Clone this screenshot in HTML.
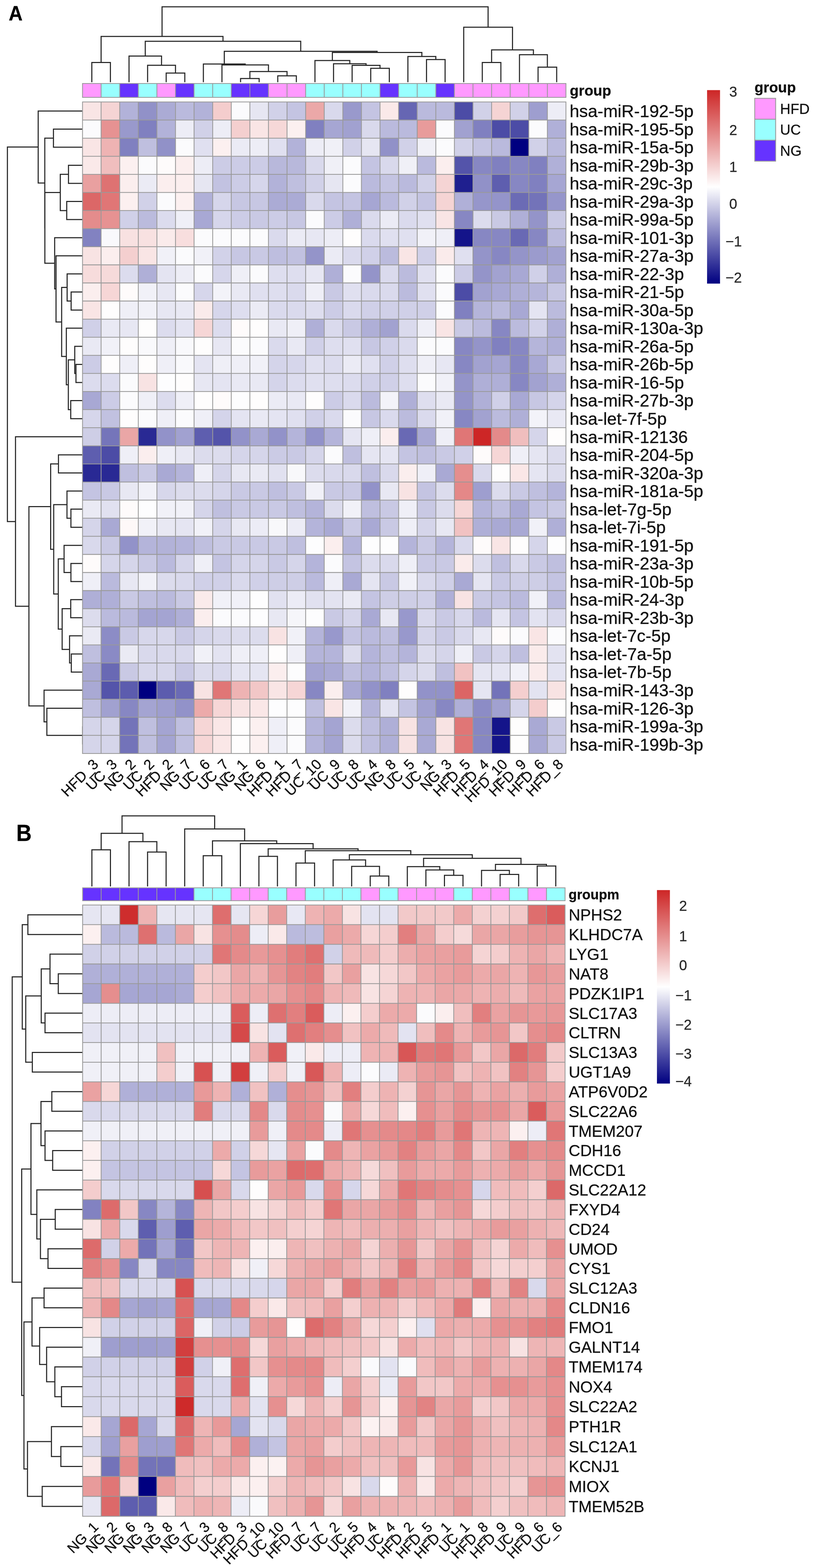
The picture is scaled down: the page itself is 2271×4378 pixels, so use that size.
<!DOCTYPE html>
<html lang="en"><head><meta charset="utf-8"><title>Heatmaps A and B</title>
<style>
html,body{margin:0;padding:0;background:#fff}
body{width:2271px;height:4378px;overflow:hidden}
svg{display:block}
text{font-family:"Liberation Sans",sans-serif;fill:#111;stroke:#111;stroke-width:0.45}
.grid{fill:none;stroke:#999999;stroke-width:2.3;stroke-linecap:square}
.dn{fill:none;stroke:#262626;stroke-width:3.0;stroke-linejoin:miter;stroke-linecap:butt}
.cl text{text-anchor:end}
.lt text{text-anchor:middle;fill:#2a2a2a;stroke:#2a2a2a}
.b{font-weight:bold}
</style></head><body>
<svg width="2271" height="4378" viewBox="0 0 2271 4378">
<rect width="2271" height="4378" fill="#fff"/>
<g id="panelA">
<text class="b" transform="translate(24.2 56.9) scale(0.95 1)" font-size="56.7" style="fill:#000">A</text>
<path class="dn" d="M256.5 229.5V174.4H308.4V229.5M464.2 229.5V204H516.2V229.5M412.3 229.5V182.3H490.2V204M360.4 229.5V156.4H451.2V182.3M672 229.5V219.2H723.9V229.5M775.9 229.5V211.7H827.8V229.5M698 219.2V199.8H801.8V211.7M620 229.5V181.2H749.9V199.8M568.1 229.5V178.8H685V181.2M1035.6 229.5V190.8H1087.5V229.5M983.6 229.5V182.4H1061.5V190.8M931.7 229.5V177.9H1022.6V182.4M879.8 229.5V168.9H977.1V177.9M1191.4 229.5V166.2H1243.3V229.5M1139.4 229.5V157.8H1217.4V166.2M928.4 168.9V146.5H1178.4V157.8M626.5 178.8V143.2H1053.4V146.5M405.8 156.4V115.2H840V143.2M282.4 174.4V101.8H622.9V115.2M1347.2 229.5V174.6H1399.1V229.5M1503 229.5V187.4H1555V229.5M1451.1 229.5V152.7H1529V187.4M1373.2 174.6V139.2H1490V152.7M1295.3 229.5V76H1431.6V139.2M452.7 101.8V19.1H1363.4V76"/>
<path class="dn" d="M230.5 360.5H149.3V411H230.5M230.5 461.6H191.3V512.1H230.5M230.5 562.6H186.4V613.1H230.5M191.3 486.8H168.4V587.9H186.4M230.5 815.3H198.7V865.8H230.5M230.5 764.7H187.5V840.5H198.7M230.5 1017.4H212.2V1067.9H230.5M230.5 966.9H208.8V1042.7H212.2M230.5 1118.4H197.6V1169H230.5M208.8 1004.8H190.9V1143.7H197.6M230.5 916.3H185.3V1074.2H190.9M187.5 802.6H172.2V995.3H185.3M230.5 714.2H156.5V899H172.2M230.5 663.7H152.7V806.6H156.5M168.4 537.4H125.3V735.1H152.7M149.3 385.8H125.1V636.2H125.3M230.5 310H106.7V511H125.1M230.5 1270H163.3V1320.6H230.5M230.5 1421.6H198.1V1472.2H230.5M230.5 1371.1H187.1V1446.9H198.1M230.5 1573.2H198.1V1623.7H230.5M230.5 1522.7H179V1598.5H198.1M230.5 1674.3H197.6V1724.8H230.5M230.5 1825.9H199.2V1876.4H230.5M230.5 1775.3H194.3V1851.1H199.2M197.6 1699.5H173.6V1813.2H194.3M179 1560.6H162.8V1756.4H173.6M187.1 1409H150V1658.5H162.8M163.3 1295.3H141.5V1533.7H150M230.5 2028H230.8V2078.5H230.5M230.5 1977.5H130.9V2053.2H230.8M230.5 1926.9H123.1V2015.4H130.9M141.5 1414.5H80.8V1971.1H123.1M230.5 1219.5H43.3V1692.8H80.8M106.7 410.5H20.7V1456.2H43.3"/>
<g shape-rendering="crispEdges">
<rect x="230.5" y="233.2" width="51.9" height="38.7" fill="#ff99ff"/>
<rect x="282.4" y="233.2" width="51.9" height="38.7" fill="#99ffff"/>
<rect x="334.4" y="233.2" width="51.9" height="38.7" fill="#6633ff"/>
<rect x="386.3" y="233.2" width="51.9" height="38.7" fill="#99ffff"/>
<rect x="438.3" y="233.2" width="51.9" height="38.7" fill="#ff99ff"/>
<rect x="490.2" y="233.2" width="51.9" height="38.7" fill="#6633ff"/>
<rect x="542.1" y="233.2" width="103.9" height="38.7" fill="#99ffff"/>
<rect x="646" y="233.2" width="103.9" height="38.7" fill="#6633ff"/>
<rect x="749.9" y="233.2" width="103.9" height="38.7" fill="#ff99ff"/>
<rect x="853.8" y="233.2" width="207.8" height="38.7" fill="#99ffff"/>
<rect x="1061.5" y="233.2" width="51.9" height="38.7" fill="#6633ff"/>
<rect x="1113.5" y="233.2" width="103.9" height="38.7" fill="#99ffff"/>
<rect x="1217.4" y="233.2" width="51.9" height="38.7" fill="#6633ff"/>
<rect x="1269.3" y="233.2" width="311.6" height="38.7" fill="#ff99ff"/>
</g>
<path class="grid" d="M230.5 233.2H1580.9M230.5 271.9H1580.9M230.5 233.2V271.9M282.4 233.2V271.9M334.4 233.2V271.9M386.3 233.2V271.9M438.3 233.2V271.9M490.2 233.2V271.9M542.1 233.2V271.9M594.1 233.2V271.9M646 233.2V271.9M698 233.2V271.9M749.9 233.2V271.9M801.8 233.2V271.9M853.8 233.2V271.9M905.7 233.2V271.9M957.7 233.2V271.9M1009.6 233.2V271.9M1061.5 233.2V271.9M1113.5 233.2V271.9M1165.4 233.2V271.9M1217.4 233.2V271.9M1269.3 233.2V271.9M1321.2 233.2V271.9M1373.2 233.2V271.9M1425.1 233.2V271.9M1477.1 233.2V271.9M1529 233.2V271.9M1580.9 233.2V271.9"/>
<g class="hm" shape-rendering="crispEdges">
<rect x="230.5" y="284.7" width="52.2" height="50.8" fill="#f9e5e5"/>
<rect x="282.4" y="284.7" width="52.2" height="50.8" fill="#f5d4d4"/>
<rect x="334.4" y="284.7" width="52.2" height="50.8" fill="#b2b2d9"/>
<rect x="386.3" y="284.7" width="52.2" height="50.8" fill="#9191c8"/>
<rect x="438.3" y="284.7" width="52.2" height="50.8" fill="#ababd5"/>
<rect x="490.2" y="284.7" width="52.2" height="50.8" fill="#babadd"/>
<rect x="542.1" y="284.7" width="52.2" height="50.8" fill="#b2b2d9"/>
<rect x="594.1" y="284.7" width="52.2" height="50.8" fill="#f4cdcd"/>
<rect x="646" y="284.7" width="52.2" height="50.8" fill="#fbfbfd"/>
<rect x="698" y="284.7" width="52.2" height="50.8" fill="#e6e6f2"/>
<rect x="749.9" y="284.7" width="52.2" height="50.8" fill="#d1d1e8"/>
<rect x="801.8" y="284.7" width="52.2" height="50.8" fill="#c4c4e2"/>
<rect x="853.8" y="284.7" width="52.2" height="50.8" fill="#eba8a8"/>
<rect x="905.7" y="284.7" width="52.2" height="50.8" fill="#d9d9ec"/>
<rect x="957.7" y="284.7" width="52.2" height="50.8" fill="#9999cc"/>
<rect x="1009.6" y="284.7" width="52.2" height="50.8" fill="#c4c4e2"/>
<rect x="1061.5" y="284.7" width="52.2" height="50.8" fill="#fae9e9"/>
<rect x="1113.5" y="284.7" width="52.2" height="50.8" fill="#6666b3"/>
<rect x="1165.4" y="284.7" width="104.2" height="50.8" fill="#babadd"/>
<rect x="1269.3" y="284.7" width="52.2" height="50.8" fill="#4c4ca6"/>
<rect x="1321.2" y="284.7" width="52.2" height="50.8" fill="#d1d1e8"/>
<rect x="1373.2" y="284.7" width="52.2" height="50.8" fill="#f5d4d4"/>
<rect x="1425.1" y="284.7" width="52.2" height="50.8" fill="#d1d1e8"/>
<rect x="1477.1" y="284.7" width="52.2" height="50.8" fill="#9e9ecf"/>
<rect x="1529" y="284.7" width="52.2" height="50.8" fill="#ededf6"/>
<rect x="230.5" y="335.2" width="52.2" height="50.8" fill="#fbfbfd"/>
<rect x="282.4" y="335.2" width="52.2" height="50.8" fill="#e69292"/>
<rect x="334.4" y="335.2" width="52.2" height="50.8" fill="#9999cc"/>
<rect x="386.3" y="335.2" width="52.2" height="50.8" fill="#8080c0"/>
<rect x="438.3" y="335.2" width="52.2" height="50.8" fill="#b2b2d9"/>
<rect x="490.2" y="335.2" width="52.2" height="50.8" fill="#ededf6"/>
<rect x="542.1" y="335.2" width="52.2" height="50.8" fill="#d1d1e8"/>
<rect x="594.1" y="335.2" width="52.2" height="50.8" fill="#ededf6"/>
<rect x="646" y="335.2" width="52.2" height="50.8" fill="#f4cfcf"/>
<rect x="698" y="335.2" width="52.2" height="50.8" fill="#f9e5e5"/>
<rect x="749.9" y="335.2" width="52.2" height="50.8" fill="#f6d8d8"/>
<rect x="801.8" y="335.2" width="52.2" height="50.8" fill="#fcf0f0"/>
<rect x="853.8" y="335.2" width="52.2" height="50.8" fill="#8080c0"/>
<rect x="905.7" y="335.2" width="52.2" height="50.8" fill="#a6a6d3"/>
<rect x="957.7" y="335.2" width="52.2" height="50.8" fill="#a1a1d0"/>
<rect x="1009.6" y="335.2" width="52.2" height="50.8" fill="#d9d9ec"/>
<rect x="1061.5" y="335.2" width="104.2" height="50.8" fill="#babadd"/>
<rect x="1165.4" y="335.2" width="52.2" height="50.8" fill="#e89b9b"/>
<rect x="1217.4" y="335.2" width="52.2" height="50.8" fill="#fbfbfd"/>
<rect x="1269.3" y="335.2" width="52.2" height="50.8" fill="#a1a1d0"/>
<rect x="1321.2" y="335.2" width="52.2" height="50.8" fill="#8080c0"/>
<rect x="1373.2" y="335.2" width="104.2" height="50.8" fill="#4c4ca6"/>
<rect x="1477.1" y="335.2" width="52.2" height="50.8" fill="#fbfbfd"/>
<rect x="1529" y="335.2" width="52.2" height="50.8" fill="#b0b0d8"/>
<rect x="230.5" y="385.8" width="52.2" height="50.8" fill="#f9e5e5"/>
<rect x="282.4" y="385.8" width="52.2" height="50.8" fill="#eeb3b3"/>
<rect x="334.4" y="385.8" width="52.2" height="50.8" fill="#8080c0"/>
<rect x="386.3" y="385.8" width="52.2" height="50.8" fill="#bfbfdf"/>
<rect x="438.3" y="385.8" width="52.2" height="50.8" fill="#9191c8"/>
<rect x="490.2" y="385.8" width="52.2" height="50.8" fill="#fbfbfd"/>
<rect x="542.1" y="385.8" width="52.2" height="50.8" fill="#e0e0f0"/>
<rect x="594.1" y="385.8" width="52.2" height="50.8" fill="#fcf0f0"/>
<rect x="646" y="385.8" width="52.2" height="50.8" fill="#ebebf5"/>
<rect x="698" y="385.8" width="52.2" height="50.8" fill="#ededf6"/>
<rect x="749.9" y="385.8" width="52.2" height="50.8" fill="#e0e0f0"/>
<rect x="801.8" y="385.8" width="52.2" height="50.8" fill="#b2b2d9"/>
<rect x="853.8" y="385.8" width="52.2" height="50.8" fill="#ededf6"/>
<rect x="905.7" y="385.8" width="52.2" height="50.8" fill="#f0f0f7"/>
<rect x="957.7" y="385.8" width="52.2" height="50.8" fill="#d1d1e8"/>
<rect x="1009.6" y="385.8" width="52.2" height="50.8" fill="#e6e6f2"/>
<rect x="1061.5" y="385.8" width="52.2" height="50.8" fill="#9191c8"/>
<rect x="1113.5" y="385.8" width="52.2" height="50.8" fill="#d1d1e8"/>
<rect x="1165.4" y="385.8" width="52.2" height="50.8" fill="#f0f0f7"/>
<rect x="1217.4" y="385.8" width="52.2" height="50.8" fill="#fbfbfd"/>
<rect x="1269.3" y="385.8" width="52.2" height="50.8" fill="#d1d1e8"/>
<rect x="1321.2" y="385.8" width="52.2" height="50.8" fill="#c4c4e2"/>
<rect x="1373.2" y="385.8" width="52.2" height="50.8" fill="#babadd"/>
<rect x="1425.1" y="385.8" width="52.2" height="50.8" fill="#000080"/>
<rect x="1477.1" y="385.8" width="52.2" height="50.8" fill="#d1d1e8"/>
<rect x="1529" y="385.8" width="52.2" height="50.8" fill="#babadd"/>
<rect x="230.5" y="436.3" width="52.2" height="50.8" fill="#fae9e9"/>
<rect x="282.4" y="436.3" width="52.2" height="50.8" fill="#f0bebe"/>
<rect x="334.4" y="436.3" width="52.2" height="50.8" fill="#fcf0f0"/>
<rect x="386.3" y="436.3" width="52.2" height="50.8" fill="#fbfbfd"/>
<rect x="438.3" y="436.3" width="52.2" height="50.8" fill="#fefbfb"/>
<rect x="490.2" y="436.3" width="52.2" height="50.8" fill="#fbeeee"/>
<rect x="542.1" y="436.3" width="52.2" height="50.8" fill="#ededf6"/>
<rect x="594.1" y="436.3" width="156.1" height="50.8" fill="#cccce6"/>
<rect x="749.9" y="436.3" width="104.2" height="50.8" fill="#b8b8db"/>
<rect x="853.8" y="436.3" width="52.2" height="50.8" fill="#d9d9ec"/>
<rect x="905.7" y="436.3" width="52.2" height="50.8" fill="#f0f0f7"/>
<rect x="957.7" y="436.3" width="52.2" height="50.8" fill="#fbfbfd"/>
<rect x="1009.6" y="436.3" width="52.2" height="50.8" fill="#c4c4e2"/>
<rect x="1061.5" y="436.3" width="52.2" height="50.8" fill="#d9d9ec"/>
<rect x="1113.5" y="436.3" width="52.2" height="50.8" fill="#f0f0f7"/>
<rect x="1165.4" y="436.3" width="52.2" height="50.8" fill="#babadd"/>
<rect x="1217.4" y="436.3" width="52.2" height="50.8" fill="#fbeeee"/>
<rect x="1269.3" y="436.3" width="52.2" height="50.8" fill="#5454aa"/>
<rect x="1321.2" y="436.3" width="52.2" height="50.8" fill="#8787c3"/>
<rect x="1373.2" y="436.3" width="52.2" height="50.8" fill="#8080c0"/>
<rect x="1425.1" y="436.3" width="52.2" height="50.8" fill="#8787c3"/>
<rect x="1477.1" y="436.3" width="52.2" height="50.8" fill="#8080c0"/>
<rect x="1529" y="436.3" width="52.2" height="50.8" fill="#b0b0d8"/>
<rect x="230.5" y="486.8" width="52.2" height="50.8" fill="#e9a0a0"/>
<rect x="282.4" y="486.8" width="52.2" height="50.8" fill="#de7272"/>
<rect x="334.4" y="486.8" width="52.2" height="50.8" fill="#fbeeee"/>
<rect x="386.3" y="486.8" width="52.2" height="50.8" fill="#ebebf5"/>
<rect x="438.3" y="486.8" width="104.2" height="50.8" fill="#fbeeee"/>
<rect x="542.1" y="486.8" width="52.2" height="50.8" fill="#e6e6f2"/>
<rect x="594.1" y="486.8" width="52.2" height="50.8" fill="#c2c2e1"/>
<rect x="646" y="486.8" width="52.2" height="50.8" fill="#cccce6"/>
<rect x="698" y="486.8" width="52.2" height="50.8" fill="#d6d6eb"/>
<rect x="749.9" y="486.8" width="52.2" height="50.8" fill="#b2b2d9"/>
<rect x="801.8" y="486.8" width="52.2" height="50.8" fill="#bfbfdf"/>
<rect x="853.8" y="486.8" width="52.2" height="50.8" fill="#d1d1e8"/>
<rect x="905.7" y="486.8" width="52.2" height="50.8" fill="#e6e6f2"/>
<rect x="957.7" y="486.8" width="52.2" height="50.8" fill="#fbfbfd"/>
<rect x="1009.6" y="486.8" width="52.2" height="50.8" fill="#babadd"/>
<rect x="1061.5" y="486.8" width="52.2" height="50.8" fill="#c4c4e2"/>
<rect x="1113.5" y="486.8" width="52.2" height="50.8" fill="#babadd"/>
<rect x="1165.4" y="486.8" width="52.2" height="50.8" fill="#d1d1e8"/>
<rect x="1217.4" y="486.8" width="52.2" height="50.8" fill="#f5d4d4"/>
<rect x="1269.3" y="486.8" width="52.2" height="50.8" fill="#1f1f8f"/>
<rect x="1321.2" y="486.8" width="52.2" height="50.8" fill="#9191c8"/>
<rect x="1373.2" y="486.8" width="52.2" height="50.8" fill="#5e5eaf"/>
<rect x="1425.1" y="486.8" width="52.2" height="50.8" fill="#8787c3"/>
<rect x="1477.1" y="486.8" width="52.2" height="50.8" fill="#8080c0"/>
<rect x="1529" y="486.8" width="52.2" height="50.8" fill="#a6a6d3"/>
<rect x="230.5" y="537.4" width="52.2" height="50.8" fill="#dc6767"/>
<rect x="282.4" y="537.4" width="52.2" height="50.8" fill="#e07676"/>
<rect x="334.4" y="537.4" width="52.2" height="50.8" fill="#fcf0f0"/>
<rect x="386.3" y="537.4" width="52.2" height="50.8" fill="#d1d1e8"/>
<rect x="438.3" y="537.4" width="52.2" height="50.8" fill="#fbfbfd"/>
<rect x="490.2" y="537.4" width="52.2" height="50.8" fill="#fcf0f0"/>
<rect x="542.1" y="537.4" width="52.2" height="50.8" fill="#b0b0d8"/>
<rect x="594.1" y="537.4" width="52.2" height="50.8" fill="#d6d6eb"/>
<rect x="646" y="537.4" width="104.2" height="50.8" fill="#c7c7e3"/>
<rect x="749.9" y="537.4" width="104.2" height="50.8" fill="#ababd5"/>
<rect x="853.8" y="537.4" width="52.2" height="50.8" fill="#d9d9ec"/>
<rect x="905.7" y="537.4" width="104.2" height="50.8" fill="#c4c4e2"/>
<rect x="1009.6" y="537.4" width="52.2" height="50.8" fill="#a6a6d3"/>
<rect x="1061.5" y="537.4" width="52.2" height="50.8" fill="#babadd"/>
<rect x="1113.5" y="537.4" width="52.2" height="50.8" fill="#d1d1e8"/>
<rect x="1165.4" y="537.4" width="52.2" height="50.8" fill="#c4c4e2"/>
<rect x="1217.4" y="537.4" width="52.2" height="50.8" fill="#f5d4d4"/>
<rect x="1269.3" y="537.4" width="52.2" height="50.8" fill="#b0b0d8"/>
<rect x="1321.2" y="537.4" width="52.2" height="50.8" fill="#9696cb"/>
<rect x="1373.2" y="537.4" width="52.2" height="50.8" fill="#9494ca"/>
<rect x="1425.1" y="537.4" width="52.2" height="50.8" fill="#6b6bb5"/>
<rect x="1477.1" y="537.4" width="52.2" height="50.8" fill="#7373b9"/>
<rect x="1529" y="537.4" width="52.2" height="50.8" fill="#9696cb"/>
<rect x="230.5" y="587.9" width="52.2" height="50.8" fill="#e48c8c"/>
<rect x="282.4" y="587.9" width="52.2" height="50.8" fill="#e69292"/>
<rect x="334.4" y="587.9" width="52.2" height="50.8" fill="#d0d0e8"/>
<rect x="386.3" y="587.9" width="52.2" height="50.8" fill="#bbbbdd"/>
<rect x="438.3" y="587.9" width="52.2" height="50.8" fill="#dcdcee"/>
<rect x="490.2" y="587.9" width="52.2" height="50.8" fill="#efeff7"/>
<rect x="542.1" y="587.9" width="52.2" height="50.8" fill="#a8a8d4"/>
<rect x="594.1" y="587.9" width="52.2" height="50.8" fill="#d6d6eb"/>
<rect x="646" y="587.9" width="52.2" height="50.8" fill="#cccce6"/>
<rect x="698" y="587.9" width="52.2" height="50.8" fill="#c9c9e4"/>
<rect x="749.9" y="587.9" width="52.2" height="50.8" fill="#cccce6"/>
<rect x="801.8" y="587.9" width="52.2" height="50.8" fill="#c7c7e3"/>
<rect x="853.8" y="587.9" width="52.2" height="50.8" fill="#fbfbfd"/>
<rect x="905.7" y="587.9" width="52.2" height="50.8" fill="#cccce6"/>
<rect x="957.7" y="587.9" width="52.2" height="50.8" fill="#afafd7"/>
<rect x="1009.6" y="587.9" width="52.2" height="50.8" fill="#dadaed"/>
<rect x="1061.5" y="587.9" width="52.2" height="50.8" fill="#ebebf5"/>
<rect x="1113.5" y="587.9" width="52.2" height="50.8" fill="#dadaed"/>
<rect x="1165.4" y="587.9" width="52.2" height="50.8" fill="#e0e0f0"/>
<rect x="1217.4" y="587.9" width="52.2" height="50.8" fill="#f9e5e5"/>
<rect x="1269.3" y="587.9" width="52.2" height="50.8" fill="#8787c3"/>
<rect x="1321.2" y="587.9" width="52.2" height="50.8" fill="#dcdcee"/>
<rect x="1373.2" y="587.9" width="52.2" height="50.8" fill="#c9c9e4"/>
<rect x="1425.1" y="587.9" width="52.2" height="50.8" fill="#afafd7"/>
<rect x="1477.1" y="587.9" width="52.2" height="50.8" fill="#9494c9"/>
<rect x="1529" y="587.9" width="52.2" height="50.8" fill="#c9c9e4"/>
<rect x="230.5" y="638.4" width="52.2" height="50.8" fill="#8282c1"/>
<rect x="282.4" y="638.4" width="52.2" height="50.8" fill="#f9f9fc"/>
<rect x="334.4" y="638.4" width="104.2" height="50.8" fill="#f8e1e1"/>
<rect x="438.3" y="638.4" width="52.2" height="50.8" fill="#faebeb"/>
<rect x="490.2" y="638.4" width="52.2" height="50.8" fill="#f8dede"/>
<rect x="542.1" y="638.4" width="208.1" height="50.8" fill="#fbfbfd"/>
<rect x="749.9" y="638.4" width="52.2" height="50.8" fill="#dadaed"/>
<rect x="801.8" y="638.4" width="52.2" height="50.8" fill="#ebebf5"/>
<rect x="853.8" y="638.4" width="52.2" height="50.8" fill="#e7e7f3"/>
<rect x="905.7" y="638.4" width="52.2" height="50.8" fill="#ededf6"/>
<rect x="957.7" y="638.4" width="52.2" height="50.8" fill="#fefdfd"/>
<rect x="1009.6" y="638.4" width="52.2" height="50.8" fill="#dadaed"/>
<rect x="1061.5" y="638.4" width="104.2" height="50.8" fill="#e0e0f0"/>
<rect x="1165.4" y="638.4" width="52.2" height="50.8" fill="#f1f1f8"/>
<rect x="1217.4" y="638.4" width="52.2" height="50.8" fill="#efeff7"/>
<rect x="1269.3" y="638.4" width="52.2" height="50.8" fill="#14148a"/>
<rect x="1321.2" y="638.4" width="104.2" height="50.8" fill="#8787c3"/>
<rect x="1425.1" y="638.4" width="52.2" height="50.8" fill="#6969b4"/>
<rect x="1477.1" y="638.4" width="52.2" height="50.8" fill="#8787c3"/>
<rect x="1529" y="638.4" width="52.2" height="50.8" fill="#bbbbdd"/>
<rect x="230.5" y="688.9" width="52.2" height="50.8" fill="#f8e3e3"/>
<rect x="282.4" y="688.9" width="52.2" height="50.8" fill="#fbeeee"/>
<rect x="334.4" y="688.9" width="52.2" height="50.8" fill="#f4cfcf"/>
<rect x="386.3" y="688.9" width="52.2" height="50.8" fill="#f9e5e5"/>
<rect x="438.3" y="688.9" width="52.2" height="50.8" fill="#f1f1f8"/>
<rect x="490.2" y="688.9" width="52.2" height="50.8" fill="#fbfbfd"/>
<rect x="542.1" y="688.9" width="52.2" height="50.8" fill="#f1f1f8"/>
<rect x="594.1" y="688.9" width="52.2" height="50.8" fill="#d2d2e9"/>
<rect x="646" y="688.9" width="52.2" height="50.8" fill="#c7c7e3"/>
<rect x="698" y="688.9" width="52.2" height="50.8" fill="#c9c9e4"/>
<rect x="749.9" y="688.9" width="52.2" height="50.8" fill="#bebedf"/>
<rect x="801.8" y="688.9" width="52.2" height="50.8" fill="#c1c1e0"/>
<rect x="853.8" y="688.9" width="52.2" height="50.8" fill="#9494c9"/>
<rect x="905.7" y="688.9" width="52.2" height="50.8" fill="#ebebf5"/>
<rect x="957.7" y="688.9" width="52.2" height="50.8" fill="#dadaed"/>
<rect x="1009.6" y="688.9" width="52.2" height="50.8" fill="#d0d0e8"/>
<rect x="1061.5" y="688.9" width="52.2" height="50.8" fill="#bbbbdd"/>
<rect x="1113.5" y="688.9" width="52.2" height="50.8" fill="#f9e5e5"/>
<rect x="1165.4" y="688.9" width="52.2" height="50.8" fill="#d0d0e8"/>
<rect x="1217.4" y="688.9" width="52.2" height="50.8" fill="#faebeb"/>
<rect x="1269.3" y="688.9" width="52.2" height="50.8" fill="#e0e0f0"/>
<rect x="1321.2" y="688.9" width="52.2" height="50.8" fill="#9494c9"/>
<rect x="1373.2" y="688.9" width="52.2" height="50.8" fill="#8787c3"/>
<rect x="1425.1" y="688.9" width="52.2" height="50.8" fill="#9494c9"/>
<rect x="1477.1" y="688.9" width="52.2" height="50.8" fill="#9b9bcd"/>
<rect x="1529" y="688.9" width="52.2" height="50.8" fill="#a2a2d0"/>
<rect x="230.5" y="739.5" width="52.2" height="50.8" fill="#f7dcdc"/>
<rect x="282.4" y="739.5" width="52.2" height="50.8" fill="#f6dada"/>
<rect x="334.4" y="739.5" width="52.2" height="50.8" fill="#dcdcee"/>
<rect x="386.3" y="739.5" width="52.2" height="50.8" fill="#afafd7"/>
<rect x="438.3" y="739.5" width="52.2" height="50.8" fill="#e4e4f2"/>
<rect x="490.2" y="739.5" width="52.2" height="50.8" fill="#ededf6"/>
<rect x="542.1" y="739.5" width="52.2" height="50.8" fill="#fbfbfd"/>
<rect x="594.1" y="739.5" width="52.2" height="50.8" fill="#d6d6eb"/>
<rect x="646" y="739.5" width="52.2" height="50.8" fill="#efeff7"/>
<rect x="698" y="739.5" width="52.2" height="50.8" fill="#fbfbfd"/>
<rect x="749.9" y="739.5" width="104.2" height="50.8" fill="#dedeef"/>
<rect x="853.8" y="739.5" width="52.2" height="50.8" fill="#e7e7f3"/>
<rect x="905.7" y="739.5" width="52.2" height="50.8" fill="#afafd7"/>
<rect x="957.7" y="739.5" width="52.2" height="50.8" fill="#fbfbfd"/>
<rect x="1009.6" y="739.5" width="52.2" height="50.8" fill="#9494c9"/>
<rect x="1061.5" y="739.5" width="52.2" height="50.8" fill="#dadaed"/>
<rect x="1113.5" y="739.5" width="52.2" height="50.8" fill="#bbbbdd"/>
<rect x="1165.4" y="739.5" width="52.2" height="50.8" fill="#e0e0f0"/>
<rect x="1217.4" y="739.5" width="52.2" height="50.8" fill="#fbfbfd"/>
<rect x="1269.3" y="739.5" width="52.2" height="50.8" fill="#cccce6"/>
<rect x="1321.2" y="739.5" width="52.2" height="50.8" fill="#9494c9"/>
<rect x="1373.2" y="739.5" width="52.2" height="50.8" fill="#a2a2d0"/>
<rect x="1425.1" y="739.5" width="52.2" height="50.8" fill="#a8a8d4"/>
<rect x="1477.1" y="739.5" width="52.2" height="50.8" fill="#d0d0e8"/>
<rect x="1529" y="739.5" width="52.2" height="50.8" fill="#afafd7"/>
<rect x="230.5" y="790" width="52.2" height="50.8" fill="#fbeeee"/>
<rect x="282.4" y="790" width="52.2" height="50.8" fill="#f6d6d6"/>
<rect x="334.4" y="790" width="52.2" height="50.8" fill="#fefbfb"/>
<rect x="386.3" y="790" width="52.2" height="50.8" fill="#f1f1f8"/>
<rect x="438.3" y="790" width="52.2" height="50.8" fill="#e7e7f3"/>
<rect x="490.2" y="790" width="52.2" height="50.8" fill="#fbfbfd"/>
<rect x="542.1" y="790" width="52.2" height="50.8" fill="#d6d6eb"/>
<rect x="594.1" y="790" width="52.2" height="50.8" fill="#f3f3f9"/>
<rect x="646" y="790" width="52.2" height="50.8" fill="#e9e9f4"/>
<rect x="698" y="790" width="52.2" height="50.8" fill="#e0e0f0"/>
<rect x="749.9" y="790" width="52.2" height="50.8" fill="#dedeef"/>
<rect x="801.8" y="790" width="52.2" height="50.8" fill="#dadaed"/>
<rect x="853.8" y="790" width="52.2" height="50.8" fill="#efeff7"/>
<rect x="905.7" y="790" width="52.2" height="50.8" fill="#c9c9e4"/>
<rect x="957.7" y="790" width="52.2" height="50.8" fill="#e0e0f0"/>
<rect x="1009.6" y="790" width="104.2" height="50.8" fill="#dadaed"/>
<rect x="1113.5" y="790" width="52.2" height="50.8" fill="#bbbbdd"/>
<rect x="1165.4" y="790" width="52.2" height="50.8" fill="#e0e0f0"/>
<rect x="1217.4" y="790" width="52.2" height="50.8" fill="#fbfbfd"/>
<rect x="1269.3" y="790" width="52.2" height="50.8" fill="#4c4ca6"/>
<rect x="1321.2" y="790" width="52.2" height="50.8" fill="#a2a2d0"/>
<rect x="1373.2" y="790" width="52.2" height="50.8" fill="#a8a8d4"/>
<rect x="1425.1" y="790" width="52.2" height="50.8" fill="#afafd7"/>
<rect x="1477.1" y="790" width="52.2" height="50.8" fill="#b5b5da"/>
<rect x="1529" y="790" width="52.2" height="50.8" fill="#c7c7e3"/>
<rect x="230.5" y="840.5" width="52.2" height="50.8" fill="#f9e5e5"/>
<rect x="282.4" y="840.5" width="52.2" height="50.8" fill="#fefdfd"/>
<rect x="334.4" y="840.5" width="52.2" height="50.8" fill="#efeff7"/>
<rect x="386.3" y="840.5" width="52.2" height="50.8" fill="#f1f1f8"/>
<rect x="438.3" y="840.5" width="52.2" height="50.8" fill="#e7e7f3"/>
<rect x="490.2" y="840.5" width="52.2" height="50.8" fill="#e9e9f4"/>
<rect x="542.1" y="840.5" width="52.2" height="50.8" fill="#faebeb"/>
<rect x="594.1" y="840.5" width="52.2" height="50.8" fill="#d6d6eb"/>
<rect x="646" y="840.5" width="52.2" height="50.8" fill="#dedeef"/>
<rect x="698" y="840.5" width="52.2" height="50.8" fill="#ebebf5"/>
<rect x="749.9" y="840.5" width="104.2" height="50.8" fill="#dadaed"/>
<rect x="853.8" y="840.5" width="52.2" height="50.8" fill="#dedeef"/>
<rect x="905.7" y="840.5" width="52.2" height="50.8" fill="#cccce6"/>
<rect x="957.7" y="840.5" width="52.2" height="50.8" fill="#dadaed"/>
<rect x="1009.6" y="840.5" width="208.1" height="50.8" fill="#d0d0e8"/>
<rect x="1217.4" y="840.5" width="52.2" height="50.8" fill="#fbfbfd"/>
<rect x="1269.3" y="840.5" width="52.2" height="50.8" fill="#8080c0"/>
<rect x="1321.2" y="840.5" width="52.2" height="50.8" fill="#b5b5da"/>
<rect x="1373.2" y="840.5" width="52.2" height="50.8" fill="#bbbbdd"/>
<rect x="1425.1" y="840.5" width="52.2" height="50.8" fill="#a8a8d4"/>
<rect x="1477.1" y="840.5" width="52.2" height="50.8" fill="#e4e4f2"/>
<rect x="1529" y="840.5" width="52.2" height="50.8" fill="#bbbbdd"/>
<rect x="230.5" y="891.1" width="52.2" height="50.8" fill="#d0d0e8"/>
<rect x="282.4" y="891.1" width="52.2" height="50.8" fill="#e9e9f4"/>
<rect x="334.4" y="891.1" width="52.2" height="50.8" fill="#e7e7f3"/>
<rect x="386.3" y="891.1" width="52.2" height="50.8" fill="#fefdfd"/>
<rect x="438.3" y="891.1" width="52.2" height="50.8" fill="#dcdcee"/>
<rect x="490.2" y="891.1" width="52.2" height="50.8" fill="#e4e4f2"/>
<rect x="542.1" y="891.1" width="52.2" height="50.8" fill="#f6d6d6"/>
<rect x="594.1" y="891.1" width="52.2" height="50.8" fill="#dcdcee"/>
<rect x="646" y="891.1" width="52.2" height="50.8" fill="#fefbfb"/>
<rect x="698" y="891.1" width="52.2" height="50.8" fill="#fefdfd"/>
<rect x="749.9" y="891.1" width="52.2" height="50.8" fill="#e9e9f4"/>
<rect x="801.8" y="891.1" width="52.2" height="50.8" fill="#efeff7"/>
<rect x="853.8" y="891.1" width="52.2" height="50.8" fill="#afafd7"/>
<rect x="905.7" y="891.1" width="52.2" height="50.8" fill="#dadaed"/>
<rect x="957.7" y="891.1" width="52.2" height="50.8" fill="#c9c9e4"/>
<rect x="1009.6" y="891.1" width="52.2" height="50.8" fill="#afafd7"/>
<rect x="1061.5" y="891.1" width="52.2" height="50.8" fill="#a2a2d0"/>
<rect x="1113.5" y="891.1" width="52.2" height="50.8" fill="#dadaed"/>
<rect x="1165.4" y="891.1" width="52.2" height="50.8" fill="#efeff7"/>
<rect x="1217.4" y="891.1" width="52.2" height="50.8" fill="#f9e5e5"/>
<rect x="1269.3" y="891.1" width="52.2" height="50.8" fill="#c9c9e4"/>
<rect x="1321.2" y="891.1" width="52.2" height="50.8" fill="#bbbbdd"/>
<rect x="1373.2" y="891.1" width="52.2" height="50.8" fill="#8787c3"/>
<rect x="1425.1" y="891.1" width="52.2" height="50.8" fill="#bbbbdd"/>
<rect x="1477.1" y="891.1" width="52.2" height="50.8" fill="#d2d2e9"/>
<rect x="1529" y="891.1" width="52.2" height="50.8" fill="#afafd7"/>
<rect x="230.5" y="941.6" width="52.2" height="50.8" fill="#e9e9f4"/>
<rect x="282.4" y="941.6" width="52.2" height="50.8" fill="#f1f1f8"/>
<rect x="334.4" y="941.6" width="52.2" height="50.8" fill="#fefdfd"/>
<rect x="386.3" y="941.6" width="52.2" height="50.8" fill="#f9f9fc"/>
<rect x="438.3" y="941.6" width="52.2" height="50.8" fill="#efeff7"/>
<rect x="490.2" y="941.6" width="52.2" height="50.8" fill="#f9f9fc"/>
<rect x="542.1" y="941.6" width="52.2" height="50.8" fill="#fefdfd"/>
<rect x="594.1" y="941.6" width="52.2" height="50.8" fill="#e7e7f3"/>
<rect x="646" y="941.6" width="104.2" height="50.8" fill="#fbfbfd"/>
<rect x="749.9" y="941.6" width="52.2" height="50.8" fill="#dadaed"/>
<rect x="801.8" y="941.6" width="52.2" height="50.8" fill="#e9e9f4"/>
<rect x="853.8" y="941.6" width="52.2" height="50.8" fill="#d0d0e8"/>
<rect x="905.7" y="941.6" width="52.2" height="50.8" fill="#dedeef"/>
<rect x="957.7" y="941.6" width="52.2" height="50.8" fill="#e0e0f0"/>
<rect x="1009.6" y="941.6" width="52.2" height="50.8" fill="#c7c7e3"/>
<rect x="1061.5" y="941.6" width="52.2" height="50.8" fill="#d0d0e8"/>
<rect x="1113.5" y="941.6" width="52.2" height="50.8" fill="#dadaed"/>
<rect x="1165.4" y="941.6" width="104.2" height="50.8" fill="#fbfbfd"/>
<rect x="1269.3" y="941.6" width="52.2" height="50.8" fill="#8787c3"/>
<rect x="1321.2" y="941.6" width="52.2" height="50.8" fill="#9494c9"/>
<rect x="1373.2" y="941.6" width="52.2" height="50.8" fill="#8080c0"/>
<rect x="1425.1" y="941.6" width="52.2" height="50.8" fill="#8787c3"/>
<rect x="1477.1" y="941.6" width="52.2" height="50.8" fill="#b5b5da"/>
<rect x="1529" y="941.6" width="52.2" height="50.8" fill="#afafd7"/>
<rect x="230.5" y="992.1" width="52.2" height="50.8" fill="#cccce6"/>
<rect x="282.4" y="992.1" width="52.2" height="50.8" fill="#fefdfd"/>
<rect x="334.4" y="992.1" width="52.2" height="50.8" fill="#efeff7"/>
<rect x="386.3" y="992.1" width="52.2" height="50.8" fill="#fefdfd"/>
<rect x="438.3" y="992.1" width="52.2" height="50.8" fill="#efeff7"/>
<rect x="490.2" y="992.1" width="52.2" height="50.8" fill="#f9f9fc"/>
<rect x="542.1" y="992.1" width="52.2" height="50.8" fill="#e4e4f2"/>
<rect x="594.1" y="992.1" width="104.2" height="50.8" fill="#efeff7"/>
<rect x="698" y="992.1" width="52.2" height="50.8" fill="#f1f1f8"/>
<rect x="749.9" y="992.1" width="52.2" height="50.8" fill="#d4d4ea"/>
<rect x="801.8" y="992.1" width="52.2" height="50.8" fill="#d6d6eb"/>
<rect x="853.8" y="992.1" width="52.2" height="50.8" fill="#e0e0f0"/>
<rect x="905.7" y="992.1" width="52.2" height="50.8" fill="#dcdcee"/>
<rect x="957.7" y="992.1" width="52.2" height="50.8" fill="#ebebf5"/>
<rect x="1009.6" y="992.1" width="52.2" height="50.8" fill="#e0e0f0"/>
<rect x="1061.5" y="992.1" width="52.2" height="50.8" fill="#d0d0e8"/>
<rect x="1113.5" y="992.1" width="52.2" height="50.8" fill="#dedeef"/>
<rect x="1165.4" y="992.1" width="52.2" height="50.8" fill="#efeff7"/>
<rect x="1217.4" y="992.1" width="52.2" height="50.8" fill="#e7e7f3"/>
<rect x="1269.3" y="992.1" width="52.2" height="50.8" fill="#8787c3"/>
<rect x="1321.2" y="992.1" width="52.2" height="50.8" fill="#a2a2d0"/>
<rect x="1373.2" y="992.1" width="52.2" height="50.8" fill="#a5a5d2"/>
<rect x="1425.1" y="992.1" width="52.2" height="50.8" fill="#8787c3"/>
<rect x="1477.1" y="992.1" width="52.2" height="50.8" fill="#a8a8d4"/>
<rect x="1529" y="992.1" width="52.2" height="50.8" fill="#c7c7e3"/>
<rect x="230.5" y="1042.7" width="104.2" height="50.8" fill="#dcdcee"/>
<rect x="334.4" y="1042.7" width="52.2" height="50.8" fill="#fbfbfd"/>
<rect x="386.3" y="1042.7" width="52.2" height="50.8" fill="#f8e3e3"/>
<rect x="438.3" y="1042.7" width="52.2" height="50.8" fill="#fdfdfe"/>
<rect x="490.2" y="1042.7" width="52.2" height="50.8" fill="#fefdfd"/>
<rect x="542.1" y="1042.7" width="52.2" height="50.8" fill="#e7e7f3"/>
<rect x="594.1" y="1042.7" width="52.2" height="50.8" fill="#e4e4f2"/>
<rect x="646" y="1042.7" width="104.2" height="50.8" fill="#e9e9f4"/>
<rect x="749.9" y="1042.7" width="52.2" height="50.8" fill="#d4d4ea"/>
<rect x="801.8" y="1042.7" width="52.2" height="50.8" fill="#dcdcee"/>
<rect x="853.8" y="1042.7" width="52.2" height="50.8" fill="#e0e0f0"/>
<rect x="905.7" y="1042.7" width="52.2" height="50.8" fill="#dedeef"/>
<rect x="957.7" y="1042.7" width="52.2" height="50.8" fill="#dcdcee"/>
<rect x="1009.6" y="1042.7" width="104.2" height="50.8" fill="#d0d0e8"/>
<rect x="1113.5" y="1042.7" width="52.2" height="50.8" fill="#dedeef"/>
<rect x="1165.4" y="1042.7" width="52.2" height="50.8" fill="#fbfbfd"/>
<rect x="1217.4" y="1042.7" width="52.2" height="50.8" fill="#f1f1f8"/>
<rect x="1269.3" y="1042.7" width="52.2" height="50.8" fill="#9494c9"/>
<rect x="1321.2" y="1042.7" width="104.2" height="50.8" fill="#afafd7"/>
<rect x="1425.1" y="1042.7" width="52.2" height="50.8" fill="#8787c3"/>
<rect x="1477.1" y="1042.7" width="52.2" height="50.8" fill="#a2a2d0"/>
<rect x="1529" y="1042.7" width="52.2" height="50.8" fill="#afafd7"/>
<rect x="230.5" y="1093.2" width="52.2" height="50.8" fill="#a8a8d4"/>
<rect x="282.4" y="1093.2" width="52.2" height="50.8" fill="#cccce6"/>
<rect x="334.4" y="1093.2" width="52.2" height="50.8" fill="#fbfbfd"/>
<rect x="386.3" y="1093.2" width="52.2" height="50.8" fill="#efeff7"/>
<rect x="438.3" y="1093.2" width="52.2" height="50.8" fill="#dcdcee"/>
<rect x="490.2" y="1093.2" width="52.2" height="50.8" fill="#efeff7"/>
<rect x="542.1" y="1093.2" width="52.2" height="50.8" fill="#fefdfd"/>
<rect x="594.1" y="1093.2" width="52.2" height="50.8" fill="#fefbfb"/>
<rect x="646" y="1093.2" width="52.2" height="50.8" fill="#fdfdfe"/>
<rect x="698" y="1093.2" width="52.2" height="50.8" fill="#fefdfd"/>
<rect x="749.9" y="1093.2" width="52.2" height="50.8" fill="#ebebf5"/>
<rect x="801.8" y="1093.2" width="52.2" height="50.8" fill="#e9e9f4"/>
<rect x="853.8" y="1093.2" width="52.2" height="50.8" fill="#fefdfd"/>
<rect x="905.7" y="1093.2" width="52.2" height="50.8" fill="#cccce6"/>
<rect x="957.7" y="1093.2" width="52.2" height="50.8" fill="#dadaed"/>
<rect x="1009.6" y="1093.2" width="52.2" height="50.8" fill="#bbbbdd"/>
<rect x="1061.5" y="1093.2" width="52.2" height="50.8" fill="#f3f3f9"/>
<rect x="1113.5" y="1093.2" width="52.2" height="50.8" fill="#afafd7"/>
<rect x="1165.4" y="1093.2" width="52.2" height="50.8" fill="#dedeef"/>
<rect x="1217.4" y="1093.2" width="52.2" height="50.8" fill="#e9e9f4"/>
<rect x="1269.3" y="1093.2" width="52.2" height="50.8" fill="#9494c9"/>
<rect x="1321.2" y="1093.2" width="52.2" height="50.8" fill="#afafd7"/>
<rect x="1373.2" y="1093.2" width="52.2" height="50.8" fill="#d0d0e8"/>
<rect x="1425.1" y="1093.2" width="52.2" height="50.8" fill="#a8a8d4"/>
<rect x="1477.1" y="1093.2" width="52.2" height="50.8" fill="#c7c7e3"/>
<rect x="1529" y="1093.2" width="52.2" height="50.8" fill="#d4d4ea"/>
<rect x="230.5" y="1143.7" width="52.2" height="50.8" fill="#d6d6eb"/>
<rect x="282.4" y="1143.7" width="52.2" height="50.8" fill="#c1c1e0"/>
<rect x="334.4" y="1143.7" width="52.2" height="50.8" fill="#fefdfd"/>
<rect x="386.3" y="1143.7" width="52.2" height="50.8" fill="#fbfbfd"/>
<rect x="438.3" y="1143.7" width="52.2" height="50.8" fill="#efeff7"/>
<rect x="490.2" y="1143.7" width="52.2" height="50.8" fill="#fbfbfd"/>
<rect x="542.1" y="1143.7" width="52.2" height="50.8" fill="#efeff7"/>
<rect x="594.1" y="1143.7" width="52.2" height="50.8" fill="#d4d4ea"/>
<rect x="646" y="1143.7" width="52.2" height="50.8" fill="#e4e4f2"/>
<rect x="698" y="1143.7" width="52.2" height="50.8" fill="#e9e9f4"/>
<rect x="749.9" y="1143.7" width="52.2" height="50.8" fill="#e4e4f2"/>
<rect x="801.8" y="1143.7" width="52.2" height="50.8" fill="#e0e0f0"/>
<rect x="853.8" y="1143.7" width="52.2" height="50.8" fill="#d0d0e8"/>
<rect x="905.7" y="1143.7" width="52.2" height="50.8" fill="#dadaed"/>
<rect x="957.7" y="1143.7" width="52.2" height="50.8" fill="#fbfbfd"/>
<rect x="1009.6" y="1143.7" width="52.2" height="50.8" fill="#c7c7e3"/>
<rect x="1061.5" y="1143.7" width="52.2" height="50.8" fill="#dadaed"/>
<rect x="1113.5" y="1143.7" width="52.2" height="50.8" fill="#bbbbdd"/>
<rect x="1165.4" y="1143.7" width="52.2" height="50.8" fill="#dadaed"/>
<rect x="1217.4" y="1143.7" width="52.2" height="50.8" fill="#f1f1f8"/>
<rect x="1269.3" y="1143.7" width="52.2" height="50.8" fill="#8787c3"/>
<rect x="1321.2" y="1143.7" width="52.2" height="50.8" fill="#a2a2d0"/>
<rect x="1373.2" y="1143.7" width="52.2" height="50.8" fill="#bbbbdd"/>
<rect x="1425.1" y="1143.7" width="52.2" height="50.8" fill="#afafd7"/>
<rect x="1477.1" y="1143.7" width="52.2" height="50.8" fill="#f3f3f9"/>
<rect x="1529" y="1143.7" width="52.2" height="50.8" fill="#e9e9f4"/>
<rect x="230.5" y="1194.2" width="52.2" height="50.8" fill="#cecee6"/>
<rect x="282.4" y="1194.2" width="52.2" height="50.8" fill="#7575ba"/>
<rect x="334.4" y="1194.2" width="52.2" height="50.8" fill="#eaa6a6"/>
<rect x="386.3" y="1194.2" width="52.2" height="50.8" fill="#292994"/>
<rect x="438.3" y="1194.2" width="52.2" height="50.8" fill="#9292c9"/>
<rect x="490.2" y="1194.2" width="52.2" height="50.8" fill="#a1a1d0"/>
<rect x="542.1" y="1194.2" width="52.2" height="50.8" fill="#5e5eaf"/>
<rect x="594.1" y="1194.2" width="52.2" height="50.8" fill="#5454aa"/>
<rect x="646" y="1194.2" width="52.2" height="50.8" fill="#9292c9"/>
<rect x="698" y="1194.2" width="52.2" height="50.8" fill="#a9a9d4"/>
<rect x="749.9" y="1194.2" width="52.2" height="50.8" fill="#9292c9"/>
<rect x="801.8" y="1194.2" width="52.2" height="50.8" fill="#b4b4da"/>
<rect x="853.8" y="1194.2" width="52.2" height="50.8" fill="#9292c9"/>
<rect x="905.7" y="1194.2" width="52.2" height="50.8" fill="#b4b4da"/>
<rect x="957.7" y="1194.2" width="52.2" height="50.8" fill="#e5e5f2"/>
<rect x="1009.6" y="1194.2" width="52.2" height="50.8" fill="#efeff7"/>
<rect x="1061.5" y="1194.2" width="52.2" height="50.8" fill="#fbeeee"/>
<rect x="1113.5" y="1194.2" width="52.2" height="50.8" fill="#6969b4"/>
<rect x="1165.4" y="1194.2" width="52.2" height="50.8" fill="#a9a9d4"/>
<rect x="1217.4" y="1194.2" width="52.2" height="50.8" fill="#efeff7"/>
<rect x="1269.3" y="1194.2" width="52.2" height="50.8" fill="#e07676"/>
<rect x="1321.2" y="1194.2" width="52.2" height="50.8" fill="#cd2626"/>
<rect x="1373.2" y="1194.2" width="52.2" height="50.8" fill="#e48a8a"/>
<rect x="1425.1" y="1194.2" width="52.2" height="50.8" fill="#f0bebe"/>
<rect x="1477.1" y="1194.2" width="52.2" height="50.8" fill="#d5d5ea"/>
<rect x="1529" y="1194.2" width="52.2" height="50.8" fill="#fefdfd"/>
<rect x="230.5" y="1244.8" width="52.2" height="50.8" fill="#5e5eaf"/>
<rect x="282.4" y="1244.8" width="52.2" height="50.8" fill="#4c4ca6"/>
<rect x="334.4" y="1244.8" width="52.2" height="50.8" fill="#efeff7"/>
<rect x="386.3" y="1244.8" width="52.2" height="50.8" fill="#fbeeee"/>
<rect x="438.3" y="1244.8" width="52.2" height="50.8" fill="#efeff7"/>
<rect x="490.2" y="1244.8" width="52.2" height="50.8" fill="#e8e8f3"/>
<rect x="542.1" y="1244.8" width="104.2" height="50.8" fill="#dcdced"/>
<rect x="646" y="1244.8" width="104.2" height="50.8" fill="#d5d5ea"/>
<rect x="749.9" y="1244.8" width="52.2" height="50.8" fill="#cbcbe5"/>
<rect x="801.8" y="1244.8" width="52.2" height="50.8" fill="#c9c9e4"/>
<rect x="853.8" y="1244.8" width="52.2" height="50.8" fill="#d5d5ea"/>
<rect x="905.7" y="1244.8" width="52.2" height="50.8" fill="#fbfbfd"/>
<rect x="957.7" y="1244.8" width="52.2" height="50.8" fill="#bfbfdf"/>
<rect x="1009.6" y="1244.8" width="104.2" height="50.8" fill="#e5e5f2"/>
<rect x="1113.5" y="1244.8" width="52.2" height="50.8" fill="#c4c4e2"/>
<rect x="1165.4" y="1244.8" width="52.2" height="50.8" fill="#bfbfdf"/>
<rect x="1217.4" y="1244.8" width="52.2" height="50.8" fill="#c9c9e4"/>
<rect x="1269.3" y="1244.8" width="52.2" height="50.8" fill="#d0d0e8"/>
<rect x="1321.2" y="1244.8" width="52.2" height="50.8" fill="#fefbfb"/>
<rect x="1373.2" y="1244.8" width="52.2" height="50.8" fill="#f6d6d6"/>
<rect x="1425.1" y="1244.8" width="52.2" height="50.8" fill="#efeff7"/>
<rect x="1477.1" y="1244.8" width="52.2" height="50.8" fill="#e5e5f2"/>
<rect x="1529" y="1244.8" width="52.2" height="50.8" fill="#dcdced"/>
<rect x="230.5" y="1295.3" width="104.2" height="50.8" fill="#292994"/>
<rect x="334.4" y="1295.3" width="52.2" height="50.8" fill="#bfbfdf"/>
<rect x="386.3" y="1295.3" width="52.2" height="50.8" fill="#c9c9e4"/>
<rect x="438.3" y="1295.3" width="52.2" height="50.8" fill="#a9a9d4"/>
<rect x="490.2" y="1295.3" width="52.2" height="50.8" fill="#b4b4da"/>
<rect x="542.1" y="1295.3" width="52.2" height="50.8" fill="#efeff7"/>
<rect x="594.1" y="1295.3" width="52.2" height="50.8" fill="#d5d5ea"/>
<rect x="646" y="1295.3" width="52.2" height="50.8" fill="#e8e8f3"/>
<rect x="698" y="1295.3" width="52.2" height="50.8" fill="#eaeaf4"/>
<rect x="749.9" y="1295.3" width="52.2" height="50.8" fill="#e1e1f0"/>
<rect x="801.8" y="1295.3" width="52.2" height="50.8" fill="#f8f8fb"/>
<rect x="853.8" y="1295.3" width="52.2" height="50.8" fill="#dcdced"/>
<rect x="905.7" y="1295.3" width="104.2" height="50.8" fill="#d9d9ec"/>
<rect x="1009.6" y="1295.3" width="52.2" height="50.8" fill="#bfbfdf"/>
<rect x="1061.5" y="1295.3" width="52.2" height="50.8" fill="#d9d9ec"/>
<rect x="1113.5" y="1295.3" width="52.2" height="50.8" fill="#fbeeee"/>
<rect x="1165.4" y="1295.3" width="52.2" height="50.8" fill="#efeff7"/>
<rect x="1217.4" y="1295.3" width="52.2" height="50.8" fill="#a9a9d4"/>
<rect x="1269.3" y="1295.3" width="52.2" height="50.8" fill="#e58e8e"/>
<rect x="1321.2" y="1295.3" width="52.2" height="50.8" fill="#d9d9ec"/>
<rect x="1373.2" y="1295.3" width="52.2" height="50.8" fill="#fefdfd"/>
<rect x="1425.1" y="1295.3" width="52.2" height="50.8" fill="#fae7e7"/>
<rect x="1477.1" y="1295.3" width="52.2" height="50.8" fill="#e5e5f2"/>
<rect x="1529" y="1295.3" width="52.2" height="50.8" fill="#dcdced"/>
<rect x="230.5" y="1345.8" width="52.2" height="50.8" fill="#c4c4e2"/>
<rect x="282.4" y="1345.8" width="52.2" height="50.8" fill="#c9c9e4"/>
<rect x="334.4" y="1345.8" width="52.2" height="50.8" fill="#e8e8f3"/>
<rect x="386.3" y="1345.8" width="52.2" height="50.8" fill="#f1f1f8"/>
<rect x="438.3" y="1345.8" width="52.2" height="50.8" fill="#d7d7eb"/>
<rect x="490.2" y="1345.8" width="104.2" height="50.8" fill="#dcdced"/>
<rect x="594.1" y="1345.8" width="52.2" height="50.8" fill="#d5d5ea"/>
<rect x="646" y="1345.8" width="104.2" height="50.8" fill="#c9c9e4"/>
<rect x="749.9" y="1345.8" width="52.2" height="50.8" fill="#bfbfdf"/>
<rect x="801.8" y="1345.8" width="52.2" height="50.8" fill="#c9c9e4"/>
<rect x="853.8" y="1345.8" width="52.2" height="50.8" fill="#f1f1f8"/>
<rect x="905.7" y="1345.8" width="104.2" height="50.8" fill="#c9c9e4"/>
<rect x="1009.6" y="1345.8" width="52.2" height="50.8" fill="#9292c9"/>
<rect x="1061.5" y="1345.8" width="52.2" height="50.8" fill="#e8e8f3"/>
<rect x="1113.5" y="1345.8" width="52.2" height="50.8" fill="#f8e3e3"/>
<rect x="1165.4" y="1345.8" width="52.2" height="50.8" fill="#c4c4e2"/>
<rect x="1217.4" y="1345.8" width="52.2" height="50.8" fill="#dcdced"/>
<rect x="1269.3" y="1345.8" width="52.2" height="50.8" fill="#e48888"/>
<rect x="1321.2" y="1345.8" width="52.2" height="50.8" fill="#9e9ecf"/>
<rect x="1373.2" y="1345.8" width="52.2" height="50.8" fill="#dcdced"/>
<rect x="1425.1" y="1345.8" width="52.2" height="50.8" fill="#c9c9e4"/>
<rect x="1477.1" y="1345.8" width="52.2" height="50.8" fill="#bfbfdf"/>
<rect x="1529" y="1345.8" width="52.2" height="50.8" fill="#b4b4da"/>
<rect x="230.5" y="1396.4" width="52.2" height="50.8" fill="#eaeaf4"/>
<rect x="282.4" y="1396.4" width="52.2" height="50.8" fill="#e1e1f0"/>
<rect x="334.4" y="1396.4" width="52.2" height="50.8" fill="#fefbfb"/>
<rect x="386.3" y="1396.4" width="52.2" height="50.8" fill="#fdfdfe"/>
<rect x="438.3" y="1396.4" width="104.2" height="50.8" fill="#f1f1f8"/>
<rect x="542.1" y="1396.4" width="52.2" height="50.8" fill="#d5d5ea"/>
<rect x="594.1" y="1396.4" width="52.2" height="50.8" fill="#bfbfdf"/>
<rect x="646" y="1396.4" width="156.1" height="50.8" fill="#c9c9e4"/>
<rect x="801.8" y="1396.4" width="52.2" height="50.8" fill="#bfbfdf"/>
<rect x="853.8" y="1396.4" width="52.2" height="50.8" fill="#b4b4da"/>
<rect x="905.7" y="1396.4" width="52.2" height="50.8" fill="#dcdced"/>
<rect x="957.7" y="1396.4" width="52.2" height="50.8" fill="#f1f1f8"/>
<rect x="1009.6" y="1396.4" width="52.2" height="50.8" fill="#bfbfdf"/>
<rect x="1061.5" y="1396.4" width="52.2" height="50.8" fill="#c9c9e4"/>
<rect x="1113.5" y="1396.4" width="52.2" height="50.8" fill="#efeff7"/>
<rect x="1165.4" y="1396.4" width="52.2" height="50.8" fill="#c9c9e4"/>
<rect x="1217.4" y="1396.4" width="52.2" height="50.8" fill="#dcdced"/>
<rect x="1269.3" y="1396.4" width="52.2" height="50.8" fill="#f6d6d6"/>
<rect x="1321.2" y="1396.4" width="52.2" height="50.8" fill="#b4b4da"/>
<rect x="1373.2" y="1396.4" width="52.2" height="50.8" fill="#bfbfdf"/>
<rect x="1425.1" y="1396.4" width="52.2" height="50.8" fill="#a9a9d4"/>
<rect x="1477.1" y="1396.4" width="52.2" height="50.8" fill="#c4c4e2"/>
<rect x="1529" y="1396.4" width="52.2" height="50.8" fill="#c9c9e4"/>
<rect x="230.5" y="1446.9" width="52.2" height="50.8" fill="#d5d5ea"/>
<rect x="282.4" y="1446.9" width="52.2" height="50.8" fill="#a9a9d4"/>
<rect x="334.4" y="1446.9" width="52.2" height="50.8" fill="#fef8f8"/>
<rect x="386.3" y="1446.9" width="52.2" height="50.8" fill="#f1f1f8"/>
<rect x="438.3" y="1446.9" width="52.2" height="50.8" fill="#e8e8f3"/>
<rect x="490.2" y="1446.9" width="52.2" height="50.8" fill="#e5e5f2"/>
<rect x="542.1" y="1446.9" width="52.2" height="50.8" fill="#f1f1f8"/>
<rect x="594.1" y="1446.9" width="52.2" height="50.8" fill="#d5d5ea"/>
<rect x="646" y="1446.9" width="52.2" height="50.8" fill="#e8e8f3"/>
<rect x="698" y="1446.9" width="52.2" height="50.8" fill="#ececf6"/>
<rect x="749.9" y="1446.9" width="52.2" height="50.8" fill="#f8f8fb"/>
<rect x="801.8" y="1446.9" width="52.2" height="50.8" fill="#ececf6"/>
<rect x="853.8" y="1446.9" width="52.2" height="50.8" fill="#b4b4da"/>
<rect x="905.7" y="1446.9" width="52.2" height="50.8" fill="#a9a9d4"/>
<rect x="957.7" y="1446.9" width="52.2" height="50.8" fill="#c9c9e4"/>
<rect x="1009.6" y="1446.9" width="52.2" height="50.8" fill="#a9a9d4"/>
<rect x="1061.5" y="1446.9" width="52.2" height="50.8" fill="#c9c9e4"/>
<rect x="1113.5" y="1446.9" width="52.2" height="50.8" fill="#efeff7"/>
<rect x="1165.4" y="1446.9" width="52.2" height="50.8" fill="#d5d5ea"/>
<rect x="1217.4" y="1446.9" width="52.2" height="50.8" fill="#e8e8f3"/>
<rect x="1269.3" y="1446.9" width="52.2" height="50.8" fill="#f1c2c2"/>
<rect x="1321.2" y="1446.9" width="52.2" height="50.8" fill="#afafd7"/>
<rect x="1373.2" y="1446.9" width="104.2" height="50.8" fill="#a9a9d4"/>
<rect x="1477.1" y="1446.9" width="52.2" height="50.8" fill="#f1f1f8"/>
<rect x="1529" y="1446.9" width="52.2" height="50.8" fill="#afafd7"/>
<rect x="230.5" y="1497.4" width="52.2" height="50.8" fill="#d9d9ec"/>
<rect x="282.4" y="1497.4" width="52.2" height="50.8" fill="#c9c9e4"/>
<rect x="334.4" y="1497.4" width="52.2" height="50.8" fill="#9292c9"/>
<rect x="386.3" y="1497.4" width="52.2" height="50.8" fill="#b4b4da"/>
<rect x="438.3" y="1497.4" width="52.2" height="50.8" fill="#b2b2d8"/>
<rect x="490.2" y="1497.4" width="52.2" height="50.8" fill="#b4b4da"/>
<rect x="542.1" y="1497.4" width="52.2" height="50.8" fill="#bfbfdf"/>
<rect x="594.1" y="1497.4" width="208.1" height="50.8" fill="#c9c9e4"/>
<rect x="801.8" y="1497.4" width="52.2" height="50.8" fill="#bfbfdf"/>
<rect x="853.8" y="1497.4" width="52.2" height="50.8" fill="#fdfdfe"/>
<rect x="905.7" y="1497.4" width="52.2" height="50.8" fill="#fbeeee"/>
<rect x="957.7" y="1497.4" width="52.2" height="50.8" fill="#b4b4da"/>
<rect x="1009.6" y="1497.4" width="104.2" height="50.8" fill="#fdfdfe"/>
<rect x="1113.5" y="1497.4" width="52.2" height="50.8" fill="#b4b4da"/>
<rect x="1165.4" y="1497.4" width="52.2" height="50.8" fill="#c9c9e4"/>
<rect x="1217.4" y="1497.4" width="52.2" height="50.8" fill="#b4b4da"/>
<rect x="1269.3" y="1497.4" width="52.2" height="50.8" fill="#d9d9ec"/>
<rect x="1321.2" y="1497.4" width="52.2" height="50.8" fill="#fefbfb"/>
<rect x="1373.2" y="1497.4" width="52.2" height="50.8" fill="#f9e5e5"/>
<rect x="1425.1" y="1497.4" width="52.2" height="50.8" fill="#fefdfd"/>
<rect x="1477.1" y="1497.4" width="52.2" height="50.8" fill="#d5d5ea"/>
<rect x="1529" y="1497.4" width="52.2" height="50.8" fill="#fdfdfe"/>
<rect x="230.5" y="1548" width="52.2" height="50.8" fill="#fefbfb"/>
<rect x="282.4" y="1548" width="104.2" height="50.8" fill="#d5d5ea"/>
<rect x="386.3" y="1548" width="52.2" height="50.8" fill="#c9c9e4"/>
<rect x="438.3" y="1548" width="52.2" height="50.8" fill="#babadd"/>
<rect x="490.2" y="1548" width="52.2" height="50.8" fill="#d5d5ea"/>
<rect x="542.1" y="1548" width="52.2" height="50.8" fill="#efeff7"/>
<rect x="594.1" y="1548" width="52.2" height="50.8" fill="#c4c4e2"/>
<rect x="646" y="1548" width="104.2" height="50.8" fill="#d5d5ea"/>
<rect x="749.9" y="1548" width="52.2" height="50.8" fill="#c9c9e4"/>
<rect x="801.8" y="1548" width="52.2" height="50.8" fill="#d5d5ea"/>
<rect x="853.8" y="1548" width="52.2" height="50.8" fill="#b4b4da"/>
<rect x="905.7" y="1548" width="52.2" height="50.8" fill="#fbfbfd"/>
<rect x="957.7" y="1548" width="52.2" height="50.8" fill="#c4c4e2"/>
<rect x="1009.6" y="1548" width="52.2" height="50.8" fill="#dcdced"/>
<rect x="1061.5" y="1548" width="52.2" height="50.8" fill="#d9d9ec"/>
<rect x="1113.5" y="1548" width="52.2" height="50.8" fill="#efeff7"/>
<rect x="1165.4" y="1548" width="104.2" height="50.8" fill="#c9c9e4"/>
<rect x="1269.3" y="1548" width="52.2" height="50.8" fill="#faebeb"/>
<rect x="1321.2" y="1548" width="52.2" height="50.8" fill="#dcdced"/>
<rect x="1373.2" y="1548" width="52.2" height="50.8" fill="#bfbfdf"/>
<rect x="1425.1" y="1548" width="52.2" height="50.8" fill="#d9d9ec"/>
<rect x="1477.1" y="1548" width="52.2" height="50.8" fill="#c9c9e4"/>
<rect x="1529" y="1548" width="52.2" height="50.8" fill="#bfbfdf"/>
<rect x="230.5" y="1598.5" width="52.2" height="50.8" fill="#efeff7"/>
<rect x="282.4" y="1598.5" width="52.2" height="50.8" fill="#babadd"/>
<rect x="334.4" y="1598.5" width="52.2" height="50.8" fill="#e8e8f3"/>
<rect x="386.3" y="1598.5" width="52.2" height="50.8" fill="#f1f1f8"/>
<rect x="438.3" y="1598.5" width="52.2" height="50.8" fill="#dcdced"/>
<rect x="490.2" y="1598.5" width="52.2" height="50.8" fill="#d9d9ec"/>
<rect x="542.1" y="1598.5" width="104.2" height="50.8" fill="#d0d0e8"/>
<rect x="646" y="1598.5" width="52.2" height="50.8" fill="#d9d9ec"/>
<rect x="698" y="1598.5" width="52.2" height="50.8" fill="#d0d0e8"/>
<rect x="749.9" y="1598.5" width="104.2" height="50.8" fill="#cecee6"/>
<rect x="853.8" y="1598.5" width="52.2" height="50.8" fill="#babadd"/>
<rect x="905.7" y="1598.5" width="52.2" height="50.8" fill="#efeff7"/>
<rect x="957.7" y="1598.5" width="52.2" height="50.8" fill="#a9a9d4"/>
<rect x="1009.6" y="1598.5" width="52.2" height="50.8" fill="#e5e5f2"/>
<rect x="1061.5" y="1598.5" width="52.2" height="50.8" fill="#c9c9e4"/>
<rect x="1113.5" y="1598.5" width="52.2" height="50.8" fill="#f1f1f8"/>
<rect x="1165.4" y="1598.5" width="52.2" height="50.8" fill="#d9d9ec"/>
<rect x="1217.4" y="1598.5" width="52.2" height="50.8" fill="#d0d0e8"/>
<rect x="1269.3" y="1598.5" width="52.2" height="50.8" fill="#a9a9d4"/>
<rect x="1321.2" y="1598.5" width="52.2" height="50.8" fill="#e5e5f2"/>
<rect x="1373.2" y="1598.5" width="52.2" height="50.8" fill="#c9c9e4"/>
<rect x="1425.1" y="1598.5" width="104.2" height="50.8" fill="#cecee6"/>
<rect x="1529" y="1598.5" width="52.2" height="50.8" fill="#c4c4e2"/>
<rect x="230.5" y="1649" width="104.2" height="50.8" fill="#afafd7"/>
<rect x="334.4" y="1649" width="52.2" height="50.8" fill="#c9c9e4"/>
<rect x="386.3" y="1649" width="52.2" height="50.8" fill="#bfbfdf"/>
<rect x="438.3" y="1649" width="52.2" height="50.8" fill="#babadd"/>
<rect x="490.2" y="1649" width="52.2" height="50.8" fill="#c9c9e4"/>
<rect x="542.1" y="1649" width="52.2" height="50.8" fill="#faebeb"/>
<rect x="594.1" y="1649" width="104.2" height="50.8" fill="#f1f1f8"/>
<rect x="698" y="1649" width="52.2" height="50.8" fill="#fdfdfe"/>
<rect x="749.9" y="1649" width="52.2" height="50.8" fill="#e1e1f0"/>
<rect x="801.8" y="1649" width="52.2" height="50.8" fill="#ececf6"/>
<rect x="853.8" y="1649" width="52.2" height="50.8" fill="#e1e1f0"/>
<rect x="905.7" y="1649" width="52.2" height="50.8" fill="#e3e3f1"/>
<rect x="957.7" y="1649" width="52.2" height="50.8" fill="#eaeaf4"/>
<rect x="1009.6" y="1649" width="52.2" height="50.8" fill="#c4c4e2"/>
<rect x="1061.5" y="1649" width="104.2" height="50.8" fill="#cecee6"/>
<rect x="1165.4" y="1649" width="52.2" height="50.8" fill="#d0d0e8"/>
<rect x="1217.4" y="1649" width="52.2" height="50.8" fill="#afafd7"/>
<rect x="1269.3" y="1649" width="52.2" height="50.8" fill="#f8e3e3"/>
<rect x="1321.2" y="1649" width="52.2" height="50.8" fill="#c9c9e4"/>
<rect x="1373.2" y="1649" width="52.2" height="50.8" fill="#c4c4e2"/>
<rect x="1425.1" y="1649" width="52.2" height="50.8" fill="#babadd"/>
<rect x="1477.1" y="1649" width="52.2" height="50.8" fill="#f1f1f8"/>
<rect x="1529" y="1649" width="52.2" height="50.8" fill="#babadd"/>
<rect x="230.5" y="1699.5" width="52.2" height="50.8" fill="#dcdced"/>
<rect x="282.4" y="1699.5" width="104.2" height="50.8" fill="#babadd"/>
<rect x="386.3" y="1699.5" width="104.2" height="50.8" fill="#a4a4d2"/>
<rect x="490.2" y="1699.5" width="52.2" height="50.8" fill="#afafd7"/>
<rect x="542.1" y="1699.5" width="52.2" height="50.8" fill="#fbeeee"/>
<rect x="594.1" y="1699.5" width="104.2" height="50.8" fill="#fbfbfd"/>
<rect x="698" y="1699.5" width="52.2" height="50.8" fill="#fdfdfe"/>
<rect x="749.9" y="1699.5" width="52.2" height="50.8" fill="#e8e8f3"/>
<rect x="801.8" y="1699.5" width="52.2" height="50.8" fill="#f6f6fa"/>
<rect x="853.8" y="1699.5" width="52.2" height="50.8" fill="#fdfdfe"/>
<rect x="905.7" y="1699.5" width="52.2" height="50.8" fill="#c9c9e4"/>
<rect x="957.7" y="1699.5" width="52.2" height="50.8" fill="#d5d5ea"/>
<rect x="1009.6" y="1699.5" width="52.2" height="50.8" fill="#a9a9d4"/>
<rect x="1061.5" y="1699.5" width="52.2" height="50.8" fill="#e8e8f3"/>
<rect x="1113.5" y="1699.5" width="52.2" height="50.8" fill="#9898cc"/>
<rect x="1165.4" y="1699.5" width="52.2" height="50.8" fill="#d9d9ec"/>
<rect x="1217.4" y="1699.5" width="52.2" height="50.8" fill="#c9c9e4"/>
<rect x="1269.3" y="1699.5" width="52.2" height="50.8" fill="#d7d7eb"/>
<rect x="1321.2" y="1699.5" width="52.2" height="50.8" fill="#babadd"/>
<rect x="1373.2" y="1699.5" width="52.2" height="50.8" fill="#e5e5f2"/>
<rect x="1425.1" y="1699.5" width="52.2" height="50.8" fill="#c4c4e2"/>
<rect x="1477.1" y="1699.5" width="52.2" height="50.8" fill="#e3e3f1"/>
<rect x="1529" y="1699.5" width="52.2" height="50.8" fill="#d9d9ec"/>
<rect x="230.5" y="1750.1" width="52.2" height="50.8" fill="#eaeaf4"/>
<rect x="282.4" y="1750.1" width="52.2" height="50.8" fill="#8c8cc6"/>
<rect x="334.4" y="1750.1" width="52.2" height="50.8" fill="#c9c9e4"/>
<rect x="386.3" y="1750.1" width="104.2" height="50.8" fill="#d7d7eb"/>
<rect x="490.2" y="1750.1" width="52.2" height="50.8" fill="#c9c9e4"/>
<rect x="542.1" y="1750.1" width="52.2" height="50.8" fill="#d5d5ea"/>
<rect x="594.1" y="1750.1" width="52.2" height="50.8" fill="#d9d9ec"/>
<rect x="646" y="1750.1" width="104.2" height="50.8" fill="#dcdced"/>
<rect x="749.9" y="1750.1" width="52.2" height="50.8" fill="#f8e3e3"/>
<rect x="801.8" y="1750.1" width="52.2" height="50.8" fill="#f1f1f8"/>
<rect x="853.8" y="1750.1" width="52.2" height="50.8" fill="#b4b4da"/>
<rect x="905.7" y="1750.1" width="52.2" height="50.8" fill="#9898cc"/>
<rect x="957.7" y="1750.1" width="52.2" height="50.8" fill="#c4c4e2"/>
<rect x="1009.6" y="1750.1" width="52.2" height="50.8" fill="#babadd"/>
<rect x="1061.5" y="1750.1" width="52.2" height="50.8" fill="#bfbfdf"/>
<rect x="1113.5" y="1750.1" width="52.2" height="50.8" fill="#9898cc"/>
<rect x="1165.4" y="1750.1" width="52.2" height="50.8" fill="#d5d5ea"/>
<rect x="1217.4" y="1750.1" width="52.2" height="50.8" fill="#c9c9e4"/>
<rect x="1269.3" y="1750.1" width="52.2" height="50.8" fill="#d9d9ec"/>
<rect x="1321.2" y="1750.1" width="52.2" height="50.8" fill="#e8e8f3"/>
<rect x="1373.2" y="1750.1" width="52.2" height="50.8" fill="#fefbfb"/>
<rect x="1425.1" y="1750.1" width="52.2" height="50.8" fill="#fbfbfd"/>
<rect x="1477.1" y="1750.1" width="52.2" height="50.8" fill="#f9e5e5"/>
<rect x="1529" y="1750.1" width="52.2" height="50.8" fill="#fbfbfd"/>
<rect x="230.5" y="1800.6" width="52.2" height="50.8" fill="#bfbfdf"/>
<rect x="282.4" y="1800.6" width="52.2" height="50.8" fill="#8a8ac5"/>
<rect x="334.4" y="1800.6" width="52.2" height="50.8" fill="#eaeaf4"/>
<rect x="386.3" y="1800.6" width="156.1" height="50.8" fill="#d9d9ec"/>
<rect x="542.1" y="1800.6" width="52.2" height="50.8" fill="#f1f1f8"/>
<rect x="594.1" y="1800.6" width="52.2" height="50.8" fill="#e3e3f1"/>
<rect x="646" y="1800.6" width="104.2" height="50.8" fill="#efeff7"/>
<rect x="749.9" y="1800.6" width="52.2" height="50.8" fill="#fefdfd"/>
<rect x="801.8" y="1800.6" width="52.2" height="50.8" fill="#efeff7"/>
<rect x="853.8" y="1800.6" width="104.2" height="50.8" fill="#b4b4da"/>
<rect x="957.7" y="1800.6" width="52.2" height="50.8" fill="#dcdced"/>
<rect x="1009.6" y="1800.6" width="52.2" height="50.8" fill="#b4b4da"/>
<rect x="1061.5" y="1800.6" width="52.2" height="50.8" fill="#bfbfdf"/>
<rect x="1113.5" y="1800.6" width="52.2" height="50.8" fill="#b4b4da"/>
<rect x="1165.4" y="1800.6" width="52.2" height="50.8" fill="#dcdced"/>
<rect x="1217.4" y="1800.6" width="52.2" height="50.8" fill="#d5d5ea"/>
<rect x="1269.3" y="1800.6" width="52.2" height="50.8" fill="#efeff7"/>
<rect x="1321.2" y="1800.6" width="52.2" height="50.8" fill="#c9c9e4"/>
<rect x="1373.2" y="1800.6" width="52.2" height="50.8" fill="#d5d5ea"/>
<rect x="1425.1" y="1800.6" width="52.2" height="50.8" fill="#bfbfdf"/>
<rect x="1477.1" y="1800.6" width="52.2" height="50.8" fill="#faebeb"/>
<rect x="1529" y="1800.6" width="52.2" height="50.8" fill="#e3e3f1"/>
<rect x="230.5" y="1851.1" width="52.2" height="50.8" fill="#a9a9d4"/>
<rect x="282.4" y="1851.1" width="52.2" height="50.8" fill="#6969b4"/>
<rect x="334.4" y="1851.1" width="52.2" height="50.8" fill="#c9c9e4"/>
<rect x="386.3" y="1851.1" width="104.2" height="50.8" fill="#d7d7eb"/>
<rect x="490.2" y="1851.1" width="52.2" height="50.8" fill="#c9c9e4"/>
<rect x="542.1" y="1851.1" width="52.2" height="50.8" fill="#dcdced"/>
<rect x="594.1" y="1851.1" width="52.2" height="50.8" fill="#d9d9ec"/>
<rect x="646" y="1851.1" width="104.2" height="50.8" fill="#e5e5f2"/>
<rect x="749.9" y="1851.1" width="52.2" height="50.8" fill="#fbeeee"/>
<rect x="801.8" y="1851.1" width="52.2" height="50.8" fill="#fdfdfe"/>
<rect x="853.8" y="1851.1" width="52.2" height="50.8" fill="#a4a4d2"/>
<rect x="905.7" y="1851.1" width="52.2" height="50.8" fill="#a9a9d4"/>
<rect x="957.7" y="1851.1" width="52.2" height="50.8" fill="#bfbfdf"/>
<rect x="1009.6" y="1851.1" width="52.2" height="50.8" fill="#b4b4da"/>
<rect x="1061.5" y="1851.1" width="52.2" height="50.8" fill="#bfbfdf"/>
<rect x="1113.5" y="1851.1" width="52.2" height="50.8" fill="#d5d5ea"/>
<rect x="1165.4" y="1851.1" width="52.2" height="50.8" fill="#dcdced"/>
<rect x="1217.4" y="1851.1" width="52.2" height="50.8" fill="#bfbfdf"/>
<rect x="1269.3" y="1851.1" width="52.2" height="50.8" fill="#f1c2c2"/>
<rect x="1321.2" y="1851.1" width="104.2" height="50.8" fill="#e5e5f2"/>
<rect x="1425.1" y="1851.1" width="52.2" height="50.8" fill="#f1f1f8"/>
<rect x="1477.1" y="1851.1" width="52.2" height="50.8" fill="#faebeb"/>
<rect x="1529" y="1851.1" width="52.2" height="50.8" fill="#e3e3f1"/>
<rect x="230.5" y="1901.7" width="52.2" height="50.8" fill="#a9a9d4"/>
<rect x="282.4" y="1901.7" width="52.2" height="50.8" fill="#5454aa"/>
<rect x="334.4" y="1901.7" width="52.2" height="50.8" fill="#5c5cae"/>
<rect x="386.3" y="1901.7" width="52.2" height="50.8" fill="#000080"/>
<rect x="438.3" y="1901.7" width="52.2" height="50.8" fill="#5c5cae"/>
<rect x="490.2" y="1901.7" width="52.2" height="50.8" fill="#6b6bb5"/>
<rect x="542.1" y="1901.7" width="52.2" height="50.8" fill="#f8e3e3"/>
<rect x="594.1" y="1901.7" width="52.2" height="50.8" fill="#e07676"/>
<rect x="646" y="1901.7" width="52.2" height="50.8" fill="#eeb3b3"/>
<rect x="698" y="1901.7" width="52.2" height="50.8" fill="#f2c7c7"/>
<rect x="749.9" y="1901.7" width="52.2" height="50.8" fill="#f9e5e5"/>
<rect x="801.8" y="1901.7" width="52.2" height="50.8" fill="#f6d6d6"/>
<rect x="853.8" y="1901.7" width="52.2" height="50.8" fill="#8787c3"/>
<rect x="905.7" y="1901.7" width="52.2" height="50.8" fill="#fbeeee"/>
<rect x="957.7" y="1901.7" width="52.2" height="50.8" fill="#a9a9d4"/>
<rect x="1009.6" y="1901.7" width="52.2" height="50.8" fill="#9292c9"/>
<rect x="1061.5" y="1901.7" width="52.2" height="50.8" fill="#8080c0"/>
<rect x="1113.5" y="1901.7" width="52.2" height="50.8" fill="#fefdfd"/>
<rect x="1165.4" y="1901.7" width="104.2" height="50.8" fill="#9292c9"/>
<rect x="1269.3" y="1901.7" width="52.2" height="50.8" fill="#dc6565"/>
<rect x="1321.2" y="1901.7" width="52.2" height="50.8" fill="#e5e5f2"/>
<rect x="1373.2" y="1901.7" width="52.2" height="50.8" fill="#7373b9"/>
<rect x="1425.1" y="1901.7" width="52.2" height="50.8" fill="#f4cfcf"/>
<rect x="1477.1" y="1901.7" width="52.2" height="50.8" fill="#e3e3f1"/>
<rect x="1529" y="1901.7" width="52.2" height="50.8" fill="#f8e3e3"/>
<rect x="230.5" y="1952.2" width="52.2" height="50.8" fill="#bfbfdf"/>
<rect x="282.4" y="1952.2" width="52.2" height="50.8" fill="#a1a1d0"/>
<rect x="334.4" y="1952.2" width="52.2" height="50.8" fill="#8787c3"/>
<rect x="386.3" y="1952.2" width="52.2" height="50.8" fill="#a4a4d2"/>
<rect x="438.3" y="1952.2" width="52.2" height="50.8" fill="#9e9ecf"/>
<rect x="490.2" y="1952.2" width="52.2" height="50.8" fill="#9292c9"/>
<rect x="542.1" y="1952.2" width="52.2" height="50.8" fill="#ecaaaa"/>
<rect x="594.1" y="1952.2" width="52.2" height="50.8" fill="#f6d6d6"/>
<rect x="646" y="1952.2" width="52.2" height="50.8" fill="#f8e3e3"/>
<rect x="698" y="1952.2" width="52.2" height="50.8" fill="#fae7e7"/>
<rect x="749.9" y="1952.2" width="104.2" height="50.8" fill="#fdfdfe"/>
<rect x="853.8" y="1952.2" width="52.2" height="50.8" fill="#bfbfdf"/>
<rect x="905.7" y="1952.2" width="52.2" height="50.8" fill="#f9e5e5"/>
<rect x="957.7" y="1952.2" width="52.2" height="50.8" fill="#f1f1f8"/>
<rect x="1009.6" y="1952.2" width="52.2" height="50.8" fill="#b4b4da"/>
<rect x="1061.5" y="1952.2" width="52.2" height="50.8" fill="#e3e3f1"/>
<rect x="1113.5" y="1952.2" width="52.2" height="50.8" fill="#c4c4e2"/>
<rect x="1165.4" y="1952.2" width="52.2" height="50.8" fill="#a1a1d0"/>
<rect x="1217.4" y="1952.2" width="52.2" height="50.8" fill="#8787c3"/>
<rect x="1269.3" y="1952.2" width="52.2" height="50.8" fill="#afafd7"/>
<rect x="1321.2" y="1952.2" width="52.2" height="50.8" fill="#8c8cc6"/>
<rect x="1373.2" y="1952.2" width="52.2" height="50.8" fill="#a1a1d0"/>
<rect x="1425.1" y="1952.2" width="52.2" height="50.8" fill="#d5d5ea"/>
<rect x="1477.1" y="1952.2" width="52.2" height="50.8" fill="#f4cdcd"/>
<rect x="1529" y="1952.2" width="52.2" height="50.8" fill="#fefdfd"/>
<rect x="230.5" y="2002.7" width="104.2" height="50.8" fill="#d5d5ea"/>
<rect x="334.4" y="2002.7" width="52.2" height="50.8" fill="#7373b9"/>
<rect x="386.3" y="2002.7" width="52.2" height="50.8" fill="#bfbfdf"/>
<rect x="438.3" y="2002.7" width="52.2" height="50.8" fill="#a4a4d2"/>
<rect x="490.2" y="2002.7" width="52.2" height="50.8" fill="#bfbfdf"/>
<rect x="542.1" y="2002.7" width="52.2" height="50.8" fill="#f6d6d6"/>
<rect x="594.1" y="2002.7" width="52.2" height="50.8" fill="#fae7e7"/>
<rect x="646" y="2002.7" width="52.2" height="50.8" fill="#fefdfd"/>
<rect x="698" y="2002.7" width="52.2" height="50.8" fill="#fcf0f0"/>
<rect x="749.9" y="2002.7" width="52.2" height="50.8" fill="#efeff7"/>
<rect x="801.8" y="2002.7" width="52.2" height="50.8" fill="#fbfbfd"/>
<rect x="853.8" y="2002.7" width="52.2" height="50.8" fill="#b4b4da"/>
<rect x="905.7" y="2002.7" width="52.2" height="50.8" fill="#a4a4d2"/>
<rect x="957.7" y="2002.7" width="52.2" height="50.8" fill="#dcdced"/>
<rect x="1009.6" y="2002.7" width="52.2" height="50.8" fill="#bfbfdf"/>
<rect x="1061.5" y="2002.7" width="52.2" height="50.8" fill="#afafd7"/>
<rect x="1113.5" y="2002.7" width="52.2" height="50.8" fill="#f8e3e3"/>
<rect x="1165.4" y="2002.7" width="52.2" height="50.8" fill="#a9a9d4"/>
<rect x="1217.4" y="2002.7" width="52.2" height="50.8" fill="#f8e3e3"/>
<rect x="1269.3" y="2002.7" width="52.2" height="50.8" fill="#e07676"/>
<rect x="1321.2" y="2002.7" width="52.2" height="50.8" fill="#8787c3"/>
<rect x="1373.2" y="2002.7" width="52.2" height="50.8" fill="#14148a"/>
<rect x="1425.1" y="2002.7" width="52.2" height="50.8" fill="#fefdfd"/>
<rect x="1477.1" y="2002.7" width="52.2" height="50.8" fill="#a9a9d4"/>
<rect x="1529" y="2002.7" width="52.2" height="50.8" fill="#c9c9e4"/>
<rect x="230.5" y="2053.2" width="104.2" height="50.8" fill="#d5d5ea"/>
<rect x="334.4" y="2053.2" width="52.2" height="50.8" fill="#7373b9"/>
<rect x="386.3" y="2053.2" width="52.2" height="50.8" fill="#bfbfdf"/>
<rect x="438.3" y="2053.2" width="52.2" height="50.8" fill="#a4a4d2"/>
<rect x="490.2" y="2053.2" width="52.2" height="50.8" fill="#bfbfdf"/>
<rect x="542.1" y="2053.2" width="52.2" height="50.8" fill="#f6d6d6"/>
<rect x="594.1" y="2053.2" width="52.2" height="50.8" fill="#fae7e7"/>
<rect x="646" y="2053.2" width="52.2" height="50.8" fill="#fefdfd"/>
<rect x="698" y="2053.2" width="52.2" height="50.8" fill="#fcf0f0"/>
<rect x="749.9" y="2053.2" width="52.2" height="50.8" fill="#efeff7"/>
<rect x="801.8" y="2053.2" width="52.2" height="50.8" fill="#fbfbfd"/>
<rect x="853.8" y="2053.2" width="52.2" height="50.8" fill="#b4b4da"/>
<rect x="905.7" y="2053.2" width="52.2" height="50.8" fill="#a4a4d2"/>
<rect x="957.7" y="2053.2" width="52.2" height="50.8" fill="#dcdced"/>
<rect x="1009.6" y="2053.2" width="52.2" height="50.8" fill="#bfbfdf"/>
<rect x="1061.5" y="2053.2" width="52.2" height="50.8" fill="#afafd7"/>
<rect x="1113.5" y="2053.2" width="52.2" height="50.8" fill="#f8e3e3"/>
<rect x="1165.4" y="2053.2" width="52.2" height="50.8" fill="#a9a9d4"/>
<rect x="1217.4" y="2053.2" width="52.2" height="50.8" fill="#f8e3e3"/>
<rect x="1269.3" y="2053.2" width="52.2" height="50.8" fill="#e07676"/>
<rect x="1321.2" y="2053.2" width="52.2" height="50.8" fill="#8787c3"/>
<rect x="1373.2" y="2053.2" width="52.2" height="50.8" fill="#14148a"/>
<rect x="1425.1" y="2053.2" width="52.2" height="50.8" fill="#fefdfd"/>
<rect x="1477.1" y="2053.2" width="52.2" height="50.8" fill="#a9a9d4"/>
<rect x="1529" y="2053.2" width="52.2" height="50.8" fill="#c9c9e4"/>
</g>
<path class="grid" d="M230.5 284.7H1580.9M230.5 335.2H1580.9M230.5 385.8H1580.9M230.5 436.3H1580.9M230.5 486.8H1580.9M230.5 537.4H1580.9M230.5 587.9H1580.9M230.5 638.4H1580.9M230.5 688.9H1580.9M230.5 739.5H1580.9M230.5 790H1580.9M230.5 840.5H1580.9M230.5 891.1H1580.9M230.5 941.6H1580.9M230.5 992.1H1580.9M230.5 1042.7H1580.9M230.5 1093.2H1580.9M230.5 1143.7H1580.9M230.5 1194.2H1580.9M230.5 1244.8H1580.9M230.5 1295.3H1580.9M230.5 1345.8H1580.9M230.5 1396.4H1580.9M230.5 1446.9H1580.9M230.5 1497.4H1580.9M230.5 1548H1580.9M230.5 1598.5H1580.9M230.5 1649H1580.9M230.5 1699.5H1580.9M230.5 1750.1H1580.9M230.5 1800.6H1580.9M230.5 1851.1H1580.9M230.5 1901.7H1580.9M230.5 1952.2H1580.9M230.5 2002.7H1580.9M230.5 2053.2H1580.9M230.5 2103.8H1580.9M230.5 284.7V2103.8M282.4 284.7V2103.8M334.4 284.7V2103.8M386.3 284.7V2103.8M438.3 284.7V2103.8M490.2 284.7V2103.8M542.1 284.7V2103.8M594.1 284.7V2103.8M646 284.7V2103.8M698 284.7V2103.8M749.9 284.7V2103.8M801.8 284.7V2103.8M853.8 284.7V2103.8M905.7 284.7V2103.8M957.7 284.7V2103.8M1009.6 284.7V2103.8M1061.5 284.7V2103.8M1113.5 284.7V2103.8M1165.4 284.7V2103.8M1217.4 284.7V2103.8M1269.3 284.7V2103.8M1321.2 284.7V2103.8M1373.2 284.7V2103.8M1425.1 284.7V2103.8M1477.1 284.7V2103.8M1529 284.7V2103.8M1580.9 284.7V2103.8"/>
<text class="b" x="1591.5" y="266.5" font-size="40.9">group</text>
<g class="rl" font-size="48.3">
<text x="1591.2" y="327">hsa-miR-192-5p</text>
<text x="1591.2" y="377.5">hsa-miR-195-5p</text>
<text x="1591.2" y="428">hsa-miR-15a-5p</text>
<text x="1591.2" y="478.6">hsa-miR-29b-3p</text>
<text x="1591.2" y="529.1">hsa-miR-29c-3p</text>
<text x="1591.2" y="579.6">hsa-miR-29a-3p</text>
<text x="1591.2" y="630.1">hsa-miR-99a-5p</text>
<text x="1591.2" y="680.7">hsa-miR-101-3p</text>
<text x="1591.2" y="731.2">hsa-miR-27a-3p</text>
<text x="1591.2" y="781.7">hsa-miR-22-3p</text>
<text x="1591.2" y="832.3">hsa-miR-21-5p</text>
<text x="1591.2" y="882.8">hsa-miR-30a-5p</text>
<text x="1591.2" y="933.3">hsa-miR-130a-3p</text>
<text x="1591.2" y="983.9">hsa-miR-26a-5p</text>
<text x="1591.2" y="1034.4">hsa-miR-26b-5p</text>
<text x="1591.2" y="1084.9">hsa-miR-16-5p</text>
<text x="1591.2" y="1135.4">hsa-miR-27b-3p</text>
<text x="1591.2" y="1186">hsa-let-7f-5p</text>
<text x="1591.2" y="1236.5">hsa-miR-12136</text>
<text x="1591.2" y="1287">hsa-miR-204-5p</text>
<text x="1591.2" y="1337.6">hsa-miR-320a-3p</text>
<text x="1591.2" y="1388.1">hsa-miR-181a-5p</text>
<text x="1591.2" y="1438.6">hsa-let-7g-5p</text>
<text x="1591.2" y="1489.2">hsa-let-7i-5p</text>
<text x="1591.2" y="1539.7">hsa-miR-191-5p</text>
<text x="1591.2" y="1590.2">hsa-miR-23a-3p</text>
<text x="1591.2" y="1640.7">hsa-miR-10b-5p</text>
<text x="1591.2" y="1691.3">hsa-miR-24-3p</text>
<text x="1591.2" y="1741.8">hsa-miR-23b-3p</text>
<text x="1591.2" y="1792.3">hsa-let-7c-5p</text>
<text x="1591.2" y="1842.9">hsa-let-7a-5p</text>
<text x="1591.2" y="1893.4">hsa-let-7b-5p</text>
<text x="1591.2" y="1943.9">hsa-miR-143-3p</text>
<text x="1591.2" y="1994.5">hsa-miR-126-3p</text>
<text x="1591.2" y="2045">hsa-miR-199a-3p</text>
<text x="1591.2" y="2095.5">hsa-miR-199b-3p</text>
</g>
<g class="cl" font-size="40.2">
<text transform="translate(257.2 2116.2) rotate(-45)" y="28.6">HFD_3</text>
<text transform="translate(309.1 2116.2) rotate(-45)" y="28.6">UC_3</text>
<text transform="translate(361.1 2116.2) rotate(-45)" y="28.6">NG_2</text>
<text transform="translate(413 2116.2) rotate(-45)" y="28.6">UC_2</text>
<text transform="translate(464.9 2116.2) rotate(-45)" y="28.6">HFD_2</text>
<text transform="translate(516.9 2116.2) rotate(-45)" y="28.6">NG_7</text>
<text transform="translate(568.8 2116.2) rotate(-45)" y="28.6">UC_6</text>
<text transform="translate(620.8 2116.2) rotate(-45)" y="28.6">UC_7</text>
<text transform="translate(672.7 2116.2) rotate(-45)" y="28.6">NG_1</text>
<text transform="translate(724.6 2116.2) rotate(-45)" y="28.6">NG_6</text>
<text transform="translate(776.6 2116.2) rotate(-45)" y="28.6">HFD_1</text>
<text transform="translate(828.5 2116.2) rotate(-45)" y="28.6">HFD_7</text>
<text transform="translate(880.5 2116.2) rotate(-45)" y="28.6">UC_10</text>
<text transform="translate(932.4 2116.2) rotate(-45)" y="28.6">UC_9</text>
<text transform="translate(984.3 2116.2) rotate(-45)" y="28.6">UC_8</text>
<text transform="translate(1036.3 2116.2) rotate(-45)" y="28.6">UC_4</text>
<text transform="translate(1088.2 2116.2) rotate(-45)" y="28.6">NG_8</text>
<text transform="translate(1140.1 2116.2) rotate(-45)" y="28.6">UC_5</text>
<text transform="translate(1192.1 2116.2) rotate(-45)" y="28.6">UC_1</text>
<text transform="translate(1244 2116.2) rotate(-45)" y="28.6">NG_3</text>
<text transform="translate(1296 2116.2) rotate(-45)" y="28.6">HFD_5</text>
<text transform="translate(1347.9 2116.2) rotate(-45)" y="28.6">HFD_4</text>
<text transform="translate(1399.8 2116.2) rotate(-45)" y="28.6">HFD_10</text>
<text transform="translate(1451.8 2116.2) rotate(-45)" y="28.6">HFD_9</text>
<text transform="translate(1503.7 2116.2) rotate(-45)" y="28.6">HFD_6</text>
<text transform="translate(1555.7 2116.2) rotate(-45)" y="28.6">HFD_8</text>
</g>
<defs><linearGradient id="gA" x1="0" y1="0" x2="0" y2="1"><stop offset="0" stop-color="#cd2626"/><stop offset="0.5" stop-color="#ffffff"/><stop offset="1" stop-color="#000080"/></linearGradient></defs>
<rect x="1975.1" y="251.6" width="36.2" height="540.2" fill="url(#gA)"/>
<g class="lt" font-size="40">
<text x="2048" y="270.2">3</text>
<text x="2048" y="376.5">2</text>
<text x="2048" y="480.3">1</text>
<text x="2048" y="582.5">0</text>
<text x="2049.5" y="687.9">−1</text>
<text x="2049.5" y="789">−2</text>
</g>
<text class="b" x="2107.5" y="258" font-size="40.9">group</text>
<rect x="2108.2" y="274.5" width="58.5" height="58.5" fill="#ff99ff" stroke="#999999" stroke-width="2.3"/>
<text x="2179" y="317.9" font-size="40.2">HFD</text>
<rect x="2108.2" y="333" width="58.5" height="58.5" fill="#99ffff" stroke="#999999" stroke-width="2.3"/>
<text x="2179" y="376.4" font-size="40.2">UC</text>
<rect x="2108.2" y="391.5" width="58.5" height="58.5" fill="#6633ff" stroke="#999999" stroke-width="2.3"/>
<text x="2179" y="434.9" font-size="40.2">NG</text>
</g>
<g id="panelB">
<text class="b" transform="translate(45.6 2347.6) scale(0.907 1)" font-size="65.5" style="fill:#000">B</text>
<path class="dn" d="M256.7 2475V2372.8H308.5V2475M412.2 2475V2379.1H464V2475M360.4 2475V2349.9H438.1V2379.1M282.6 2372.8V2326.7H399.2V2349.9M567.7 2475V2389.2H619.5V2475M723.2 2475V2390.9H775V2475M826.8 2475V2409.7H878.7V2475M1034.2 2475V2446H1086V2475M982.3 2475V2419H1060.1V2446M930.5 2475V2401H1021.2V2419M1241.5 2475V2444.1H1293.3V2475M1189.7 2475V2429.1H1267.4V2444.1M1137.8 2475V2419.8H1228.5V2429.1M1397 2475V2441.5H1448.8V2475M1345.1 2475V2430.2H1422.9V2441.5M1500.6 2475V2417.9H1552.5V2475M1384 2430.2V2413.4H1526.5V2417.9M1183.2 2419.8V2396.6H1455.3V2413.4M975.9 2401V2386.4H1319.2V2396.6M852.8 2409.7V2375.3H1147.5V2386.4M749.1 2390.9V2370H1000.2V2375.3M671.4 2475V2355.5H874.6V2370M593.6 2389.2V2347.8H773V2355.5M515.9 2475V2314.4H683.3V2347.8M340.9 2326.7V2278.1H599.6V2314.4"/>
<path class="dn" d="M230.8 2554.2H77.9V2609.2H230.8M230.8 2719H162.8V2773.9H230.8M230.8 2664.1H139.7V2746.4H162.8M230.8 2828.7H125.8V2883.5H230.8M139.7 2705.2H115.2V2856.1H125.8M230.8 2938.4H90.3V2993.2H230.8M115.2 2780.7H71.9V2965.8H90.3M77.9 2581.7H62.2V2873.2H71.9M230.8 3048H144.8V3102.8H230.8M230.8 3212.5H147.1V3267.4H230.8M230.8 3157.7H125.8V3239.9H147.1M144.8 3075.4H114.5V3198.8H125.8M230.8 3377H154.3V3431.9H230.8M230.8 3486.7H134.1V3541.6H230.8M154.3 3404.5H113V3514.2H134.1M230.8 3322.2H102.9V3459.3H113M114.5 3137.1H86.5V3390.8H102.9M230.8 3596.5H123.1V3651.5H230.8M230.8 3871.8H171.8V3927.6H230.8M230.8 3816.5H153.2V3899.7H171.8M230.8 3761.5H130.2V3858.1H153.2M230.8 3706.5H110.7V3809.8H130.2M123.1 3624H89.4V3758.2H110.7M230.8 4038.9H170V4094.6H230.8M230.8 3983.2H143.7V4066.7H170M230.8 4150.2H117.9V4205.9H230.8M143.7 4025H76.8V4178H117.9M89.4 3691.1H66.9V4101.5H76.8M86.5 3263.9H60.6V3896.3H66.9M62.2 2727.5H34.1V3580.1H60.6"/>
<g shape-rendering="crispEdges">
<rect x="230.8" y="2478.9" width="311" height="36" fill="#6633ff"/>
<rect x="541.8" y="2478.9" width="103.7" height="36" fill="#99ffff"/>
<rect x="645.4" y="2478.9" width="103.7" height="36" fill="#ff99ff"/>
<rect x="749.1" y="2478.9" width="51.8" height="36" fill="#99ffff"/>
<rect x="800.9" y="2478.9" width="51.8" height="36" fill="#ff99ff"/>
<rect x="852.8" y="2478.9" width="155.5" height="36" fill="#99ffff"/>
<rect x="1008.2" y="2478.9" width="51.8" height="36" fill="#ff99ff"/>
<rect x="1060.1" y="2478.9" width="51.8" height="36" fill="#99ffff"/>
<rect x="1111.9" y="2478.9" width="155.5" height="36" fill="#ff99ff"/>
<rect x="1267.4" y="2478.9" width="51.8" height="36" fill="#99ffff"/>
<rect x="1319.2" y="2478.9" width="103.7" height="36" fill="#ff99ff"/>
<rect x="1422.9" y="2478.9" width="51.8" height="36" fill="#99ffff"/>
<rect x="1474.7" y="2478.9" width="51.8" height="36" fill="#ff99ff"/>
<rect x="1526.5" y="2478.9" width="51.8" height="36" fill="#99ffff"/>
</g>
<path class="grid" d="M230.8 2478.9H1578.4M230.8 2514.9H1578.4M230.8 2478.9V2514.9M282.6 2478.9V2514.9M334.5 2478.9V2514.9M386.3 2478.9V2514.9M438.1 2478.9V2514.9M489.9 2478.9V2514.9M541.8 2478.9V2514.9M593.6 2478.9V2514.9M645.4 2478.9V2514.9M697.3 2478.9V2514.9M749.1 2478.9V2514.9M800.9 2478.9V2514.9M852.8 2478.9V2514.9M904.6 2478.9V2514.9M956.4 2478.9V2514.9M1008.2 2478.9V2514.9M1060.1 2478.9V2514.9M1111.9 2478.9V2514.9M1163.7 2478.9V2514.9M1215.6 2478.9V2514.9M1267.4 2478.9V2514.9M1319.2 2478.9V2514.9M1371.1 2478.9V2514.9M1422.9 2478.9V2514.9M1474.7 2478.9V2514.9M1526.5 2478.9V2514.9M1578.4 2478.9V2514.9"/>
<g class="hm" shape-rendering="crispEdges">
<rect x="230.8" y="2526.8" width="104" height="55.2" fill="#e6e6f2"/>
<rect x="334.5" y="2526.8" width="52.1" height="55.2" fill="#ce2d2d"/>
<rect x="386.3" y="2526.8" width="52.1" height="55.2" fill="#eeb3b3"/>
<rect x="438.1" y="2526.8" width="155.8" height="55.2" fill="#e6e6f2"/>
<rect x="593.6" y="2526.8" width="52.1" height="55.2" fill="#de6e6e"/>
<rect x="645.4" y="2526.8" width="52.1" height="55.2" fill="#e6e6f2"/>
<rect x="697.3" y="2526.8" width="52.1" height="55.2" fill="#f6d6d6"/>
<rect x="749.1" y="2526.8" width="52.1" height="55.2" fill="#e89d9d"/>
<rect x="800.9" y="2526.8" width="52.1" height="55.2" fill="#e8e8f4"/>
<rect x="852.8" y="2526.8" width="52.1" height="55.2" fill="#eeb3b3"/>
<rect x="904.6" y="2526.8" width="52.1" height="55.2" fill="#ecaaaa"/>
<rect x="956.4" y="2526.8" width="52.1" height="55.2" fill="#f8e3e3"/>
<rect x="1008.2" y="2526.8" width="104" height="55.2" fill="#e3e3f1"/>
<rect x="1111.9" y="2526.8" width="155.8" height="55.2" fill="#f2c9c9"/>
<rect x="1267.4" y="2526.8" width="52.1" height="55.2" fill="#ecaaaa"/>
<rect x="1319.2" y="2526.8" width="104" height="55.2" fill="#f4d1d1"/>
<rect x="1422.9" y="2526.8" width="52.1" height="55.2" fill="#f2c9c9"/>
<rect x="1474.7" y="2526.8" width="52.1" height="55.2" fill="#de6e6e"/>
<rect x="1526.5" y="2526.8" width="52.1" height="55.2" fill="#da5c5c"/>
<rect x="230.8" y="2581.7" width="52.1" height="55.2" fill="#fcf0f0"/>
<rect x="282.6" y="2581.7" width="104" height="55.2" fill="#babadd"/>
<rect x="386.3" y="2581.7" width="52.1" height="55.2" fill="#de7070"/>
<rect x="438.1" y="2581.7" width="52.1" height="55.2" fill="#babadd"/>
<rect x="489.9" y="2581.7" width="52.1" height="55.2" fill="#eaa6a6"/>
<rect x="541.8" y="2581.7" width="52.1" height="55.2" fill="#f8e3e3"/>
<rect x="593.6" y="2581.7" width="52.1" height="55.2" fill="#e69090"/>
<rect x="645.4" y="2581.7" width="52.1" height="55.2" fill="#e48c8c"/>
<rect x="697.3" y="2581.7" width="52.1" height="55.2" fill="#ededf6"/>
<rect x="749.1" y="2581.7" width="52.1" height="55.2" fill="#fae9e9"/>
<rect x="800.9" y="2581.7" width="52.1" height="55.2" fill="#babadd"/>
<rect x="852.8" y="2581.7" width="52.1" height="55.2" fill="#bdbdde"/>
<rect x="904.6" y="2581.7" width="52.1" height="55.2" fill="#e9a0a0"/>
<rect x="956.4" y="2581.7" width="52.1" height="55.2" fill="#ecaaaa"/>
<rect x="1008.2" y="2581.7" width="52.1" height="55.2" fill="#f6d6d6"/>
<rect x="1060.1" y="2581.7" width="52.1" height="55.2" fill="#f4cdcd"/>
<rect x="1111.9" y="2581.7" width="52.1" height="55.2" fill="#e27f7f"/>
<rect x="1163.7" y="2581.7" width="52.1" height="55.2" fill="#eaa6a6"/>
<rect x="1215.6" y="2581.7" width="52.1" height="55.2" fill="#f4cdcd"/>
<rect x="1267.4" y="2581.7" width="52.1" height="55.2" fill="#f6dada"/>
<rect x="1319.2" y="2581.7" width="104" height="55.2" fill="#eaa6a6"/>
<rect x="1422.9" y="2581.7" width="52.1" height="55.2" fill="#e89d9d"/>
<rect x="1474.7" y="2581.7" width="104" height="55.2" fill="#e69595"/>
<rect x="230.8" y="2636.6" width="363.1" height="55.2" fill="#d1d1e8"/>
<rect x="593.6" y="2636.6" width="52.1" height="55.2" fill="#e07676"/>
<rect x="645.4" y="2636.6" width="52.1" height="55.2" fill="#e48a8a"/>
<rect x="697.3" y="2636.6" width="52.1" height="55.2" fill="#e89999"/>
<rect x="749.1" y="2636.6" width="52.1" height="55.2" fill="#e69090"/>
<rect x="800.9" y="2636.6" width="52.1" height="55.2" fill="#e17d7d"/>
<rect x="852.8" y="2636.6" width="52.1" height="55.2" fill="#de7070"/>
<rect x="904.6" y="2636.6" width="52.1" height="55.2" fill="#d1d1e8"/>
<rect x="956.4" y="2636.6" width="104" height="55.2" fill="#efbaba"/>
<rect x="1060.1" y="2636.6" width="52.1" height="55.2" fill="#f4cdcd"/>
<rect x="1111.9" y="2636.6" width="52.1" height="55.2" fill="#ecadad"/>
<rect x="1163.7" y="2636.6" width="52.1" height="55.2" fill="#eaa2a2"/>
<rect x="1215.6" y="2636.6" width="52.1" height="55.2" fill="#e9a0a0"/>
<rect x="1267.4" y="2636.6" width="52.1" height="55.2" fill="#e89b9b"/>
<rect x="1319.2" y="2636.6" width="52.1" height="55.2" fill="#f5d4d4"/>
<rect x="1371.1" y="2636.6" width="52.1" height="55.2" fill="#f4cdcd"/>
<rect x="1422.9" y="2636.6" width="52.1" height="55.2" fill="#eeb3b3"/>
<rect x="1474.7" y="2636.6" width="52.1" height="55.2" fill="#eaa6a6"/>
<rect x="1526.5" y="2636.6" width="52.1" height="55.2" fill="#eeb3b3"/>
<rect x="230.8" y="2691.5" width="311.3" height="55.2" fill="#b0b0d8"/>
<rect x="541.8" y="2691.5" width="52.1" height="55.2" fill="#f4cdcd"/>
<rect x="593.6" y="2691.5" width="52.1" height="55.2" fill="#f2c7c7"/>
<rect x="645.4" y="2691.5" width="52.1" height="55.2" fill="#eaa6a6"/>
<rect x="697.3" y="2691.5" width="52.1" height="55.2" fill="#eeb3b3"/>
<rect x="749.1" y="2691.5" width="52.1" height="55.2" fill="#e69595"/>
<rect x="800.9" y="2691.5" width="52.1" height="55.2" fill="#e28383"/>
<rect x="852.8" y="2691.5" width="52.1" height="55.2" fill="#e17d7d"/>
<rect x="904.6" y="2691.5" width="52.1" height="55.2" fill="#f2c7c7"/>
<rect x="956.4" y="2691.5" width="52.1" height="55.2" fill="#e9a0a0"/>
<rect x="1008.2" y="2691.5" width="52.1" height="55.2" fill="#f8e3e3"/>
<rect x="1060.1" y="2691.5" width="52.1" height="55.2" fill="#f6d8d8"/>
<rect x="1111.9" y="2691.5" width="52.1" height="55.2" fill="#f2c7c7"/>
<rect x="1163.7" y="2691.5" width="52.1" height="55.2" fill="#ecaaaa"/>
<rect x="1215.6" y="2691.5" width="52.1" height="55.2" fill="#eaa2a2"/>
<rect x="1267.4" y="2691.5" width="52.1" height="55.2" fill="#e89b9b"/>
<rect x="1319.2" y="2691.5" width="52.1" height="55.2" fill="#ecaaaa"/>
<rect x="1371.1" y="2691.5" width="52.1" height="55.2" fill="#eaa6a6"/>
<rect x="1422.9" y="2691.5" width="52.1" height="55.2" fill="#eeb3b3"/>
<rect x="1474.7" y="2691.5" width="52.1" height="55.2" fill="#e79797"/>
<rect x="1526.5" y="2691.5" width="52.1" height="55.2" fill="#e89d9d"/>
<rect x="230.8" y="2746.4" width="52.1" height="55.2" fill="#a6a6d3"/>
<rect x="282.6" y="2746.4" width="52.1" height="55.2" fill="#e58e8e"/>
<rect x="334.5" y="2746.4" width="155.8" height="55.2" fill="#a6a6d3"/>
<rect x="489.9" y="2746.4" width="52.1" height="55.2" fill="#ababd5"/>
<rect x="541.8" y="2746.4" width="52.1" height="55.2" fill="#f4cdcd"/>
<rect x="593.6" y="2746.4" width="52.1" height="55.2" fill="#f1c2c2"/>
<rect x="645.4" y="2746.4" width="104" height="55.2" fill="#ecaaaa"/>
<rect x="749.1" y="2746.4" width="52.1" height="55.2" fill="#eaa6a6"/>
<rect x="800.9" y="2746.4" width="52.1" height="55.2" fill="#e69090"/>
<rect x="852.8" y="2746.4" width="52.1" height="55.2" fill="#e48888"/>
<rect x="904.6" y="2746.4" width="52.1" height="55.2" fill="#eeb3b3"/>
<rect x="956.4" y="2746.4" width="52.1" height="55.2" fill="#efbaba"/>
<rect x="1008.2" y="2746.4" width="52.1" height="55.2" fill="#f8e3e3"/>
<rect x="1060.1" y="2746.4" width="52.1" height="55.2" fill="#f5d4d4"/>
<rect x="1111.9" y="2746.4" width="104" height="55.2" fill="#eeb3b3"/>
<rect x="1215.6" y="2746.4" width="52.1" height="55.2" fill="#eaa6a6"/>
<rect x="1267.4" y="2746.4" width="52.1" height="55.2" fill="#eba8a8"/>
<rect x="1319.2" y="2746.4" width="52.1" height="55.2" fill="#eeb3b3"/>
<rect x="1371.1" y="2746.4" width="52.1" height="55.2" fill="#ecadad"/>
<rect x="1422.9" y="2746.4" width="52.1" height="55.2" fill="#efbaba"/>
<rect x="1474.7" y="2746.4" width="104" height="55.2" fill="#eaa2a2"/>
<rect x="230.8" y="2801.3" width="414.9" height="55.1" fill="#ededf6"/>
<rect x="645.4" y="2801.3" width="52.1" height="55.1" fill="#da5c5c"/>
<rect x="697.3" y="2801.3" width="52.1" height="55.1" fill="#ededf6"/>
<rect x="749.1" y="2801.3" width="52.1" height="55.1" fill="#de7070"/>
<rect x="800.9" y="2801.3" width="52.1" height="55.1" fill="#e27f7f"/>
<rect x="852.8" y="2801.3" width="52.1" height="55.1" fill="#da5c5c"/>
<rect x="904.6" y="2801.3" width="52.1" height="55.1" fill="#ededf6"/>
<rect x="956.4" y="2801.3" width="52.1" height="55.1" fill="#fcf0f0"/>
<rect x="1008.2" y="2801.3" width="52.1" height="55.1" fill="#f4cdcd"/>
<rect x="1060.1" y="2801.3" width="104" height="55.1" fill="#ecaaaa"/>
<rect x="1163.7" y="2801.3" width="52.1" height="55.1" fill="#fbfbfd"/>
<rect x="1215.6" y="2801.3" width="52.1" height="55.1" fill="#fbeeee"/>
<rect x="1267.4" y="2801.3" width="52.1" height="55.1" fill="#f0bebe"/>
<rect x="1319.2" y="2801.3" width="52.1" height="55.1" fill="#e27f7f"/>
<rect x="1371.1" y="2801.3" width="52.1" height="55.1" fill="#eaa2a2"/>
<rect x="1422.9" y="2801.3" width="52.1" height="55.1" fill="#e69595"/>
<rect x="1474.7" y="2801.3" width="52.1" height="55.1" fill="#e89999"/>
<rect x="1526.5" y="2801.3" width="52.1" height="55.1" fill="#e79797"/>
<rect x="230.8" y="2856.1" width="414.9" height="55.1" fill="#e3e3f1"/>
<rect x="645.4" y="2856.1" width="52.1" height="55.1" fill="#d54949"/>
<rect x="697.3" y="2856.1" width="52.1" height="55.1" fill="#f8e3e3"/>
<rect x="749.1" y="2856.1" width="52.1" height="55.1" fill="#e3e3f1"/>
<rect x="800.9" y="2856.1" width="52.1" height="55.1" fill="#de7070"/>
<rect x="852.8" y="2856.1" width="52.1" height="55.1" fill="#e27f7f"/>
<rect x="904.6" y="2856.1" width="52.1" height="55.1" fill="#e58e8e"/>
<rect x="956.4" y="2856.1" width="52.1" height="55.1" fill="#f1c2c2"/>
<rect x="1008.2" y="2856.1" width="52.1" height="55.1" fill="#ecaaaa"/>
<rect x="1060.1" y="2856.1" width="52.1" height="55.1" fill="#efbaba"/>
<rect x="1111.9" y="2856.1" width="52.1" height="55.1" fill="#e3e3f1"/>
<rect x="1163.7" y="2856.1" width="52.1" height="55.1" fill="#f0bebe"/>
<rect x="1215.6" y="2856.1" width="52.1" height="55.1" fill="#e48a8a"/>
<rect x="1267.4" y="2856.1" width="52.1" height="55.1" fill="#eeb3b3"/>
<rect x="1319.2" y="2856.1" width="52.1" height="55.1" fill="#e89b9b"/>
<rect x="1371.1" y="2856.1" width="52.1" height="55.1" fill="#e69595"/>
<rect x="1422.9" y="2856.1" width="52.1" height="55.1" fill="#f2c7c7"/>
<rect x="1474.7" y="2856.1" width="52.1" height="55.1" fill="#e58e8e"/>
<rect x="1526.5" y="2856.1" width="52.1" height="55.1" fill="#e48888"/>
<rect x="230.8" y="2910.9" width="207.6" height="55.1" fill="#f0f0f7"/>
<rect x="438.1" y="2910.9" width="52.1" height="55.1" fill="#f0c0c0"/>
<rect x="489.9" y="2910.9" width="207.6" height="55.1" fill="#f0f0f7"/>
<rect x="697.3" y="2910.9" width="52.1" height="55.1" fill="#eeb3b3"/>
<rect x="749.1" y="2910.9" width="52.1" height="55.1" fill="#da5c5c"/>
<rect x="800.9" y="2910.9" width="52.1" height="55.1" fill="#f0f0f7"/>
<rect x="852.8" y="2910.9" width="52.1" height="55.1" fill="#fae9e9"/>
<rect x="904.6" y="2910.9" width="104" height="55.1" fill="#ededf6"/>
<rect x="1008.2" y="2910.9" width="104" height="55.1" fill="#eeb3b3"/>
<rect x="1111.9" y="2910.9" width="52.1" height="55.1" fill="#d85656"/>
<rect x="1163.7" y="2910.9" width="52.1" height="55.1" fill="#e07b7b"/>
<rect x="1215.6" y="2910.9" width="52.1" height="55.1" fill="#e07676"/>
<rect x="1267.4" y="2910.9" width="52.1" height="55.1" fill="#e89999"/>
<rect x="1319.2" y="2910.9" width="52.1" height="55.1" fill="#f2c7c7"/>
<rect x="1371.1" y="2910.9" width="52.1" height="55.1" fill="#eaa6a6"/>
<rect x="1422.9" y="2910.9" width="52.1" height="55.1" fill="#dc6969"/>
<rect x="1474.7" y="2910.9" width="52.1" height="55.1" fill="#e17d7d"/>
<rect x="1526.5" y="2910.9" width="52.1" height="55.1" fill="#f2c9c9"/>
<rect x="230.8" y="2965.8" width="207.6" height="55.1" fill="#f0f0f7"/>
<rect x="438.1" y="2965.8" width="52.1" height="55.1" fill="#f4cdcd"/>
<rect x="489.9" y="2965.8" width="52.1" height="55.1" fill="#f0f0f7"/>
<rect x="541.8" y="2965.8" width="52.1" height="55.1" fill="#d75151"/>
<rect x="593.6" y="2965.8" width="52.1" height="55.1" fill="#f0f0f7"/>
<rect x="645.4" y="2965.8" width="52.1" height="55.1" fill="#d23e3e"/>
<rect x="697.3" y="2965.8" width="52.1" height="55.1" fill="#f0f0f7"/>
<rect x="749.1" y="2965.8" width="52.1" height="55.1" fill="#f4cdcd"/>
<rect x="800.9" y="2965.8" width="52.1" height="55.1" fill="#f0f0f7"/>
<rect x="852.8" y="2965.8" width="52.1" height="55.1" fill="#d85858"/>
<rect x="904.6" y="2965.8" width="52.1" height="55.1" fill="#eeb3b3"/>
<rect x="956.4" y="2965.8" width="52.1" height="55.1" fill="#ededf6"/>
<rect x="1008.2" y="2965.8" width="52.1" height="55.1" fill="#fbfbfd"/>
<rect x="1060.1" y="2965.8" width="52.1" height="55.1" fill="#ebebf5"/>
<rect x="1111.9" y="2965.8" width="52.1" height="55.1" fill="#eeb3b3"/>
<rect x="1163.7" y="2965.8" width="52.1" height="55.1" fill="#e89b9b"/>
<rect x="1215.6" y="2965.8" width="52.1" height="55.1" fill="#e69595"/>
<rect x="1267.4" y="2965.8" width="52.1" height="55.1" fill="#f1c2c2"/>
<rect x="1319.2" y="2965.8" width="52.1" height="55.1" fill="#eeb3b3"/>
<rect x="1371.1" y="2965.8" width="52.1" height="55.1" fill="#f1c2c2"/>
<rect x="1422.9" y="2965.8" width="52.1" height="55.1" fill="#e28181"/>
<rect x="1474.7" y="2965.8" width="52.1" height="55.1" fill="#e69595"/>
<rect x="1526.5" y="2965.8" width="52.1" height="55.1" fill="#f4cdcd"/>
<rect x="230.8" y="3020.6" width="52.1" height="55.1" fill="#eaa2a2"/>
<rect x="282.6" y="3020.6" width="52.1" height="55.1" fill="#f6d6d6"/>
<rect x="334.5" y="3020.6" width="207.6" height="55.1" fill="#b0b0d8"/>
<rect x="541.8" y="3020.6" width="52.1" height="55.1" fill="#e89999"/>
<rect x="593.6" y="3020.6" width="52.1" height="55.1" fill="#eeb3b3"/>
<rect x="645.4" y="3020.6" width="52.1" height="55.1" fill="#b0b0d8"/>
<rect x="697.3" y="3020.6" width="52.1" height="55.1" fill="#f1c2c2"/>
<rect x="749.1" y="3020.6" width="52.1" height="55.1" fill="#b0b0d8"/>
<rect x="800.9" y="3020.6" width="52.1" height="55.1" fill="#e58e8e"/>
<rect x="852.8" y="3020.6" width="52.1" height="55.1" fill="#e69595"/>
<rect x="904.6" y="3020.6" width="52.1" height="55.1" fill="#f0c0c0"/>
<rect x="956.4" y="3020.6" width="52.1" height="55.1" fill="#e27f7f"/>
<rect x="1008.2" y="3020.6" width="52.1" height="55.1" fill="#f4cdcd"/>
<rect x="1060.1" y="3020.6" width="52.1" height="55.1" fill="#eeb3b3"/>
<rect x="1111.9" y="3020.6" width="52.1" height="55.1" fill="#f4d1d1"/>
<rect x="1163.7" y="3020.6" width="52.1" height="55.1" fill="#e69595"/>
<rect x="1215.6" y="3020.6" width="52.1" height="55.1" fill="#eaa6a6"/>
<rect x="1267.4" y="3020.6" width="52.1" height="55.1" fill="#e69595"/>
<rect x="1319.2" y="3020.6" width="52.1" height="55.1" fill="#eeb3b3"/>
<rect x="1371.1" y="3020.6" width="52.1" height="55.1" fill="#eaa2a2"/>
<rect x="1422.9" y="3020.6" width="52.1" height="55.1" fill="#ecafaf"/>
<rect x="1474.7" y="3020.6" width="52.1" height="55.1" fill="#e89b9b"/>
<rect x="1526.5" y="3020.6" width="52.1" height="55.1" fill="#eaa2a2"/>
<rect x="230.8" y="3075.4" width="311.3" height="55.1" fill="#d9d9ec"/>
<rect x="541.8" y="3075.4" width="52.1" height="55.1" fill="#e17d7d"/>
<rect x="593.6" y="3075.4" width="104" height="55.1" fill="#d9d9ec"/>
<rect x="697.3" y="3075.4" width="52.1" height="55.1" fill="#e48888"/>
<rect x="749.1" y="3075.4" width="52.1" height="55.1" fill="#d9d9ec"/>
<rect x="800.9" y="3075.4" width="52.1" height="55.1" fill="#e48c8c"/>
<rect x="852.8" y="3075.4" width="52.1" height="55.1" fill="#e69090"/>
<rect x="904.6" y="3075.4" width="52.1" height="55.1" fill="#fafafc"/>
<rect x="956.4" y="3075.4" width="52.1" height="55.1" fill="#ecaaaa"/>
<rect x="1008.2" y="3075.4" width="52.1" height="55.1" fill="#f6d8d8"/>
<rect x="1060.1" y="3075.4" width="52.1" height="55.1" fill="#f0bcbc"/>
<rect x="1111.9" y="3075.4" width="52.1" height="55.1" fill="#fcf0f0"/>
<rect x="1163.7" y="3075.4" width="52.1" height="55.1" fill="#e69090"/>
<rect x="1215.6" y="3075.4" width="52.1" height="55.1" fill="#e9a0a0"/>
<rect x="1267.4" y="3075.4" width="52.1" height="55.1" fill="#e48a8a"/>
<rect x="1319.2" y="3075.4" width="52.1" height="55.1" fill="#e69595"/>
<rect x="1371.1" y="3075.4" width="52.1" height="55.1" fill="#e69090"/>
<rect x="1422.9" y="3075.4" width="52.1" height="55.1" fill="#eaa6a6"/>
<rect x="1474.7" y="3075.4" width="52.1" height="55.1" fill="#da5c5c"/>
<rect x="1526.5" y="3075.4" width="52.1" height="55.1" fill="#e89999"/>
<rect x="230.8" y="3130.2" width="466.8" height="55.1" fill="#f0f0f7"/>
<rect x="697.3" y="3130.2" width="52.1" height="55.1" fill="#e89b9b"/>
<rect x="749.1" y="3130.2" width="52.1" height="55.1" fill="#f0f0f7"/>
<rect x="800.9" y="3130.2" width="104" height="55.1" fill="#e48a8a"/>
<rect x="904.6" y="3130.2" width="52.1" height="55.1" fill="#ededf6"/>
<rect x="956.4" y="3130.2" width="52.1" height="55.1" fill="#e07676"/>
<rect x="1008.2" y="3130.2" width="52.1" height="55.1" fill="#e69090"/>
<rect x="1060.1" y="3130.2" width="52.1" height="55.1" fill="#e48a8a"/>
<rect x="1111.9" y="3130.2" width="52.1" height="55.1" fill="#e48888"/>
<rect x="1163.7" y="3130.2" width="52.1" height="55.1" fill="#e17d7d"/>
<rect x="1215.6" y="3130.2" width="52.1" height="55.1" fill="#e89b9b"/>
<rect x="1267.4" y="3130.2" width="52.1" height="55.1" fill="#e07676"/>
<rect x="1319.2" y="3130.2" width="104" height="55.1" fill="#eeb5b5"/>
<rect x="1422.9" y="3130.2" width="52.1" height="55.1" fill="#fcf0f0"/>
<rect x="1474.7" y="3130.2" width="52.1" height="55.1" fill="#ededf6"/>
<rect x="1526.5" y="3130.2" width="52.1" height="55.1" fill="#e07676"/>
<rect x="230.8" y="3185.1" width="52.1" height="55.1" fill="#fcf0f0"/>
<rect x="282.6" y="3185.1" width="311.3" height="55.1" fill="#d1d1e8"/>
<rect x="593.6" y="3185.1" width="52.1" height="55.1" fill="#ecaaaa"/>
<rect x="645.4" y="3185.1" width="52.1" height="55.1" fill="#d1d1e8"/>
<rect x="697.3" y="3185.1" width="52.1" height="55.1" fill="#f6d8d8"/>
<rect x="749.1" y="3185.1" width="52.1" height="55.1" fill="#e6e6f2"/>
<rect x="800.9" y="3185.1" width="52.1" height="55.1" fill="#eaa2a2"/>
<rect x="852.8" y="3185.1" width="52.1" height="55.1" fill="#fbfbfd"/>
<rect x="904.6" y="3185.1" width="52.1" height="55.1" fill="#e48a8a"/>
<rect x="956.4" y="3185.1" width="52.1" height="55.1" fill="#eeb5b5"/>
<rect x="1008.2" y="3185.1" width="52.1" height="55.1" fill="#eaa2a2"/>
<rect x="1060.1" y="3185.1" width="52.1" height="55.1" fill="#e89999"/>
<rect x="1111.9" y="3185.1" width="52.1" height="55.1" fill="#e28181"/>
<rect x="1163.7" y="3185.1" width="52.1" height="55.1" fill="#e89b9b"/>
<rect x="1215.6" y="3185.1" width="52.1" height="55.1" fill="#eaa6a6"/>
<rect x="1267.4" y="3185.1" width="52.1" height="55.1" fill="#e48888"/>
<rect x="1319.2" y="3185.1" width="52.1" height="55.1" fill="#f2c7c7"/>
<rect x="1371.1" y="3185.1" width="52.1" height="55.1" fill="#eaa6a6"/>
<rect x="1422.9" y="3185.1" width="52.1" height="55.1" fill="#e27f7f"/>
<rect x="1474.7" y="3185.1" width="52.1" height="55.1" fill="#e69090"/>
<rect x="1526.5" y="3185.1" width="52.1" height="55.1" fill="#e48a8a"/>
<rect x="230.8" y="3239.9" width="52.1" height="55.1" fill="#fcf0f0"/>
<rect x="282.6" y="3239.9" width="311.3" height="55.1" fill="#c4c4e2"/>
<rect x="593.6" y="3239.9" width="52.1" height="55.1" fill="#f6d8d8"/>
<rect x="645.4" y="3239.9" width="52.1" height="55.1" fill="#c4c4e2"/>
<rect x="697.3" y="3239.9" width="52.1" height="55.1" fill="#e89b9b"/>
<rect x="749.1" y="3239.9" width="52.1" height="55.1" fill="#eaa2a2"/>
<rect x="800.9" y="3239.9" width="52.1" height="55.1" fill="#dd6b6b"/>
<rect x="852.8" y="3239.9" width="52.1" height="55.1" fill="#de6e6e"/>
<rect x="904.6" y="3239.9" width="52.1" height="55.1" fill="#ecaaaa"/>
<rect x="956.4" y="3239.9" width="52.1" height="55.1" fill="#eeb5b5"/>
<rect x="1008.2" y="3239.9" width="52.1" height="55.1" fill="#f6dada"/>
<rect x="1060.1" y="3239.9" width="52.1" height="55.1" fill="#f0c0c0"/>
<rect x="1111.9" y="3239.9" width="52.1" height="55.1" fill="#e89b9b"/>
<rect x="1163.7" y="3239.9" width="104" height="55.1" fill="#ecaaaa"/>
<rect x="1267.4" y="3239.9" width="52.1" height="55.1" fill="#e89b9b"/>
<rect x="1319.2" y="3239.9" width="52.1" height="55.1" fill="#edb1b1"/>
<rect x="1371.1" y="3239.9" width="52.1" height="55.1" fill="#ecaaaa"/>
<rect x="1422.9" y="3239.9" width="52.1" height="55.1" fill="#e89d9d"/>
<rect x="1474.7" y="3239.9" width="52.1" height="55.1" fill="#ecaaaa"/>
<rect x="1526.5" y="3239.9" width="52.1" height="55.1" fill="#e69595"/>
<rect x="230.8" y="3294.8" width="52.1" height="55.1" fill="#f4cdcd"/>
<rect x="282.6" y="3294.8" width="259.4" height="55.1" fill="#d9d9ec"/>
<rect x="541.8" y="3294.8" width="52.1" height="55.1" fill="#d64f4f"/>
<rect x="593.6" y="3294.8" width="52.1" height="55.1" fill="#eaa6a6"/>
<rect x="645.4" y="3294.8" width="52.1" height="55.1" fill="#d9d9ec"/>
<rect x="697.3" y="3294.8" width="52.1" height="55.1" fill="#fefdfd"/>
<rect x="749.1" y="3294.8" width="52.1" height="55.1" fill="#eaa6a6"/>
<rect x="800.9" y="3294.8" width="52.1" height="55.1" fill="#e89999"/>
<rect x="852.8" y="3294.8" width="52.1" height="55.1" fill="#d9d9ec"/>
<rect x="904.6" y="3294.8" width="52.1" height="55.1" fill="#e69090"/>
<rect x="956.4" y="3294.8" width="52.1" height="55.1" fill="#d6d6eb"/>
<rect x="1008.2" y="3294.8" width="52.1" height="55.1" fill="#f6d8d8"/>
<rect x="1060.1" y="3294.8" width="52.1" height="55.1" fill="#ecaaaa"/>
<rect x="1111.9" y="3294.8" width="52.1" height="55.1" fill="#e07676"/>
<rect x="1163.7" y="3294.8" width="52.1" height="55.1" fill="#e28383"/>
<rect x="1215.6" y="3294.8" width="52.1" height="55.1" fill="#e48c8c"/>
<rect x="1267.4" y="3294.8" width="52.1" height="55.1" fill="#e69090"/>
<rect x="1319.2" y="3294.8" width="52.1" height="55.1" fill="#d6d6eb"/>
<rect x="1371.1" y="3294.8" width="104" height="55.1" fill="#f0bcbc"/>
<rect x="1474.7" y="3294.8" width="52.1" height="55.1" fill="#f4cfcf"/>
<rect x="1526.5" y="3294.8" width="52.1" height="55.1" fill="#dc6969"/>
<rect x="230.8" y="3349.6" width="52.1" height="55.1" fill="#8282c1"/>
<rect x="282.6" y="3349.6" width="52.1" height="55.1" fill="#dd6b6b"/>
<rect x="334.5" y="3349.6" width="52.1" height="55.1" fill="#f2c7c7"/>
<rect x="386.3" y="3349.6" width="52.1" height="55.1" fill="#8787c3"/>
<rect x="438.1" y="3349.6" width="52.1" height="55.1" fill="#b5b5da"/>
<rect x="489.9" y="3349.6" width="52.1" height="55.1" fill="#8787c3"/>
<rect x="541.8" y="3349.6" width="52.1" height="55.1" fill="#eeb5b5"/>
<rect x="593.6" y="3349.6" width="52.1" height="55.1" fill="#f2c7c7"/>
<rect x="645.4" y="3349.6" width="52.1" height="55.1" fill="#f4cdcd"/>
<rect x="697.3" y="3349.6" width="52.1" height="55.1" fill="#f8e3e3"/>
<rect x="749.1" y="3349.6" width="52.1" height="55.1" fill="#f5d4d4"/>
<rect x="800.9" y="3349.6" width="52.1" height="55.1" fill="#f0bcbc"/>
<rect x="852.8" y="3349.6" width="52.1" height="55.1" fill="#f4cdcd"/>
<rect x="904.6" y="3349.6" width="52.1" height="55.1" fill="#e07676"/>
<rect x="956.4" y="3349.6" width="104" height="55.1" fill="#eaa6a6"/>
<rect x="1060.1" y="3349.6" width="52.1" height="55.1" fill="#e89b9b"/>
<rect x="1111.9" y="3349.6" width="52.1" height="55.1" fill="#e48a8a"/>
<rect x="1163.7" y="3349.6" width="52.1" height="55.1" fill="#eeb5b5"/>
<rect x="1215.6" y="3349.6" width="52.1" height="55.1" fill="#e9a0a0"/>
<rect x="1267.4" y="3349.6" width="52.1" height="55.1" fill="#e69595"/>
<rect x="1319.2" y="3349.6" width="52.1" height="55.1" fill="#f6d8d8"/>
<rect x="1371.1" y="3349.6" width="52.1" height="55.1" fill="#f4cdcd"/>
<rect x="1422.9" y="3349.6" width="52.1" height="55.1" fill="#f0c0c0"/>
<rect x="1474.7" y="3349.6" width="52.1" height="55.1" fill="#f2c7c7"/>
<rect x="1526.5" y="3349.6" width="52.1" height="55.1" fill="#eeb5b5"/>
<rect x="230.8" y="3404.5" width="52.1" height="55.1" fill="#f8e3e3"/>
<rect x="282.6" y="3404.5" width="52.1" height="55.1" fill="#ecaaaa"/>
<rect x="334.5" y="3404.5" width="52.1" height="55.1" fill="#d9d9ec"/>
<rect x="386.3" y="3404.5" width="52.1" height="55.1" fill="#5e5eaf"/>
<rect x="438.1" y="3404.5" width="52.1" height="55.1" fill="#9e9ecf"/>
<rect x="489.9" y="3404.5" width="52.1" height="55.1" fill="#5e5eaf"/>
<rect x="541.8" y="3404.5" width="52.1" height="55.1" fill="#eaa6a6"/>
<rect x="593.6" y="3404.5" width="52.1" height="55.1" fill="#ecaaaa"/>
<rect x="645.4" y="3404.5" width="52.1" height="55.1" fill="#f0bcbc"/>
<rect x="697.3" y="3404.5" width="52.1" height="55.1" fill="#f2c7c7"/>
<rect x="749.1" y="3404.5" width="52.1" height="55.1" fill="#f0c0c0"/>
<rect x="800.9" y="3404.5" width="52.1" height="55.1" fill="#f4cfcf"/>
<rect x="852.8" y="3404.5" width="52.1" height="55.1" fill="#f5d4d4"/>
<rect x="904.6" y="3404.5" width="52.1" height="55.1" fill="#eeb5b5"/>
<rect x="956.4" y="3404.5" width="52.1" height="55.1" fill="#f0bcbc"/>
<rect x="1008.2" y="3404.5" width="104" height="55.1" fill="#ecafaf"/>
<rect x="1111.9" y="3404.5" width="52.1" height="55.1" fill="#e9a0a0"/>
<rect x="1163.7" y="3404.5" width="52.1" height="55.1" fill="#eeb5b5"/>
<rect x="1215.6" y="3404.5" width="52.1" height="55.1" fill="#f0c0c0"/>
<rect x="1267.4" y="3404.5" width="52.1" height="55.1" fill="#eeb5b5"/>
<rect x="1319.2" y="3404.5" width="52.1" height="55.1" fill="#ecaaaa"/>
<rect x="1371.1" y="3404.5" width="52.1" height="55.1" fill="#e89b9b"/>
<rect x="1422.9" y="3404.5" width="52.1" height="55.1" fill="#e9a0a0"/>
<rect x="1474.7" y="3404.5" width="52.1" height="55.1" fill="#edb1b1"/>
<rect x="1526.5" y="3404.5" width="52.1" height="55.1" fill="#eeb7b7"/>
<rect x="230.8" y="3459.3" width="52.1" height="55.1" fill="#dd6b6b"/>
<rect x="282.6" y="3459.3" width="52.1" height="55.1" fill="#d1d1e8"/>
<rect x="334.5" y="3459.3" width="52.1" height="55.1" fill="#ecaaaa"/>
<rect x="386.3" y="3459.3" width="52.1" height="55.1" fill="#7373b9"/>
<rect x="438.1" y="3459.3" width="52.1" height="55.1" fill="#a6a6d3"/>
<rect x="489.9" y="3459.3" width="52.1" height="55.1" fill="#7373b9"/>
<rect x="541.8" y="3459.3" width="52.1" height="55.1" fill="#f2c7c7"/>
<rect x="593.6" y="3459.3" width="104" height="55.1" fill="#eeb5b5"/>
<rect x="697.3" y="3459.3" width="52.1" height="55.1" fill="#fcf0f0"/>
<rect x="749.1" y="3459.3" width="52.1" height="55.1" fill="#fbeeee"/>
<rect x="800.9" y="3459.3" width="52.1" height="55.1" fill="#eeb5b5"/>
<rect x="852.8" y="3459.3" width="52.1" height="55.1" fill="#f0c0c0"/>
<rect x="904.6" y="3459.3" width="52.1" height="55.1" fill="#edb1b1"/>
<rect x="956.4" y="3459.3" width="52.1" height="55.1" fill="#eaa6a6"/>
<rect x="1008.2" y="3459.3" width="52.1" height="55.1" fill="#f5d4d4"/>
<rect x="1060.1" y="3459.3" width="52.1" height="55.1" fill="#ecafaf"/>
<rect x="1111.9" y="3459.3" width="52.1" height="55.1" fill="#e69595"/>
<rect x="1163.7" y="3459.3" width="52.1" height="55.1" fill="#f2c7c7"/>
<rect x="1215.6" y="3459.3" width="52.1" height="55.1" fill="#eaa6a6"/>
<rect x="1267.4" y="3459.3" width="52.1" height="55.1" fill="#e69090"/>
<rect x="1319.2" y="3459.3" width="52.1" height="55.1" fill="#f0c0c0"/>
<rect x="1371.1" y="3459.3" width="52.1" height="55.1" fill="#f5d4d4"/>
<rect x="1422.9" y="3459.3" width="52.1" height="55.1" fill="#ecaaaa"/>
<rect x="1474.7" y="3459.3" width="52.1" height="55.1" fill="#f0bcbc"/>
<rect x="1526.5" y="3459.3" width="52.1" height="55.1" fill="#e69090"/>
<rect x="230.8" y="3514.2" width="52.1" height="55.1" fill="#e28181"/>
<rect x="282.6" y="3514.2" width="52.1" height="55.1" fill="#e69090"/>
<rect x="334.5" y="3514.2" width="52.1" height="55.1" fill="#8787c3"/>
<rect x="386.3" y="3514.2" width="52.1" height="55.1" fill="#d9d9ec"/>
<rect x="438.1" y="3514.2" width="104" height="55.1" fill="#8787c3"/>
<rect x="541.8" y="3514.2" width="52.1" height="55.1" fill="#f0bcbc"/>
<rect x="593.6" y="3514.2" width="52.1" height="55.1" fill="#eeb5b5"/>
<rect x="645.4" y="3514.2" width="52.1" height="55.1" fill="#f8e3e3"/>
<rect x="697.3" y="3514.2" width="52.1" height="55.1" fill="#f0f0f7"/>
<rect x="749.1" y="3514.2" width="52.1" height="55.1" fill="#f6d8d8"/>
<rect x="800.9" y="3514.2" width="52.1" height="55.1" fill="#edb1b1"/>
<rect x="852.8" y="3514.2" width="52.1" height="55.1" fill="#eaa6a6"/>
<rect x="904.6" y="3514.2" width="52.1" height="55.1" fill="#e89b9b"/>
<rect x="956.4" y="3514.2" width="52.1" height="55.1" fill="#edb1b1"/>
<rect x="1008.2" y="3514.2" width="52.1" height="55.1" fill="#f2c7c7"/>
<rect x="1060.1" y="3514.2" width="52.1" height="55.1" fill="#eeb5b5"/>
<rect x="1111.9" y="3514.2" width="52.1" height="55.1" fill="#e17d7d"/>
<rect x="1163.7" y="3514.2" width="52.1" height="55.1" fill="#eeb5b5"/>
<rect x="1215.6" y="3514.2" width="52.1" height="55.1" fill="#e89b9b"/>
<rect x="1267.4" y="3514.2" width="52.1" height="55.1" fill="#e48888"/>
<rect x="1319.2" y="3514.2" width="52.1" height="55.1" fill="#f2c7c7"/>
<rect x="1371.1" y="3514.2" width="52.1" height="55.1" fill="#f6d8d8"/>
<rect x="1422.9" y="3514.2" width="104" height="55.1" fill="#f4cfcf"/>
<rect x="1526.5" y="3514.2" width="52.1" height="55.1" fill="#eaa6a6"/>
<rect x="230.8" y="3569" width="104" height="55.3" fill="#f0c0c0"/>
<rect x="334.5" y="3569" width="155.8" height="55.3" fill="#d9d9ec"/>
<rect x="489.9" y="3569" width="52.1" height="55.3" fill="#d75151"/>
<rect x="541.8" y="3569" width="207.6" height="55.3" fill="#d9d9ec"/>
<rect x="749.1" y="3569" width="52.1" height="55.3" fill="#d6d6eb"/>
<rect x="800.9" y="3569" width="104" height="55.3" fill="#eaa6a6"/>
<rect x="904.6" y="3569" width="52.1" height="55.3" fill="#f4cfcf"/>
<rect x="956.4" y="3569" width="52.1" height="55.3" fill="#e17d7d"/>
<rect x="1008.2" y="3569" width="52.1" height="55.3" fill="#e9a0a0"/>
<rect x="1060.1" y="3569" width="52.1" height="55.3" fill="#e28181"/>
<rect x="1111.9" y="3569" width="52.1" height="55.3" fill="#e9a0a0"/>
<rect x="1163.7" y="3569" width="52.1" height="55.3" fill="#e89b9b"/>
<rect x="1215.6" y="3569" width="104" height="55.3" fill="#edb1b1"/>
<rect x="1319.2" y="3569" width="52.1" height="55.3" fill="#e28181"/>
<rect x="1371.1" y="3569" width="52.1" height="55.3" fill="#f0bcbc"/>
<rect x="1422.9" y="3569" width="52.1" height="55.3" fill="#e28383"/>
<rect x="1474.7" y="3569" width="52.1" height="55.3" fill="#d9d9ec"/>
<rect x="1526.5" y="3569" width="52.1" height="55.3" fill="#eaa6a6"/>
<rect x="230.8" y="3624" width="52.1" height="55.3" fill="#eeb5b5"/>
<rect x="282.6" y="3624" width="52.1" height="55.3" fill="#e48888"/>
<rect x="334.5" y="3624" width="52.1" height="55.3" fill="#a6a6d3"/>
<rect x="386.3" y="3624" width="52.1" height="55.3" fill="#a1a1d0"/>
<rect x="438.1" y="3624" width="52.1" height="55.3" fill="#a6a6d3"/>
<rect x="489.9" y="3624" width="52.1" height="55.3" fill="#dd6b6b"/>
<rect x="541.8" y="3624" width="104" height="55.3" fill="#a6a6d3"/>
<rect x="645.4" y="3624" width="52.1" height="55.3" fill="#e48888"/>
<rect x="697.3" y="3624" width="52.1" height="55.3" fill="#f4cdcd"/>
<rect x="749.1" y="3624" width="52.1" height="55.3" fill="#fae9e9"/>
<rect x="800.9" y="3624" width="52.1" height="55.3" fill="#f0c0c0"/>
<rect x="852.8" y="3624" width="52.1" height="55.3" fill="#f0bcbc"/>
<rect x="904.6" y="3624" width="52.1" height="55.3" fill="#e9a0a0"/>
<rect x="956.4" y="3624" width="52.1" height="55.3" fill="#f4cfcf"/>
<rect x="1008.2" y="3624" width="52.1" height="55.3" fill="#edb1b1"/>
<rect x="1060.1" y="3624" width="52.1" height="55.3" fill="#eeb5b5"/>
<rect x="1111.9" y="3624" width="52.1" height="55.3" fill="#f4cfcf"/>
<rect x="1163.7" y="3624" width="52.1" height="55.3" fill="#f0bcbc"/>
<rect x="1215.6" y="3624" width="52.1" height="55.3" fill="#ecaaaa"/>
<rect x="1267.4" y="3624" width="52.1" height="55.3" fill="#e07b7b"/>
<rect x="1319.2" y="3624" width="52.1" height="55.3" fill="#fcf0f0"/>
<rect x="1371.1" y="3624" width="52.1" height="55.3" fill="#eaa6a6"/>
<rect x="1422.9" y="3624" width="104" height="55.3" fill="#ecafaf"/>
<rect x="1526.5" y="3624" width="52.1" height="55.3" fill="#e48888"/>
<rect x="230.8" y="3679" width="52.1" height="55.3" fill="#f8e3e3"/>
<rect x="282.6" y="3679" width="207.6" height="55.3" fill="#d1d1e8"/>
<rect x="489.9" y="3679" width="52.1" height="55.3" fill="#dc6565"/>
<rect x="541.8" y="3679" width="52.1" height="55.3" fill="#f0f0f7"/>
<rect x="593.6" y="3679" width="52.1" height="55.3" fill="#d1d1e8"/>
<rect x="645.4" y="3679" width="52.1" height="55.3" fill="#cccce6"/>
<rect x="697.3" y="3679" width="52.1" height="55.3" fill="#e89b9b"/>
<rect x="749.1" y="3679" width="52.1" height="55.3" fill="#e69595"/>
<rect x="800.9" y="3679" width="52.1" height="55.3" fill="#fefdfd"/>
<rect x="852.8" y="3679" width="52.1" height="55.3" fill="#dd6b6b"/>
<rect x="904.6" y="3679" width="52.1" height="55.3" fill="#e28181"/>
<rect x="956.4" y="3679" width="52.1" height="55.3" fill="#eaa6a6"/>
<rect x="1008.2" y="3679" width="52.1" height="55.3" fill="#f6d8d8"/>
<rect x="1060.1" y="3679" width="52.1" height="55.3" fill="#f4cfcf"/>
<rect x="1111.9" y="3679" width="52.1" height="55.3" fill="#fcf0f0"/>
<rect x="1163.7" y="3679" width="52.1" height="55.3" fill="#e0e0f0"/>
<rect x="1215.6" y="3679" width="52.1" height="55.3" fill="#ecaaaa"/>
<rect x="1267.4" y="3679" width="52.1" height="55.3" fill="#ecafaf"/>
<rect x="1319.2" y="3679" width="52.1" height="55.3" fill="#ecaaaa"/>
<rect x="1371.1" y="3679" width="104" height="55.3" fill="#e69090"/>
<rect x="1474.7" y="3679" width="52.1" height="55.3" fill="#e28181"/>
<rect x="1526.5" y="3679" width="52.1" height="55.3" fill="#e07b7b"/>
<rect x="230.8" y="3734" width="52.1" height="55.3" fill="#f0f0f7"/>
<rect x="282.6" y="3734" width="155.8" height="55.3" fill="#9e9ecf"/>
<rect x="438.1" y="3734" width="52.1" height="55.3" fill="#a1a1d0"/>
<rect x="489.9" y="3734" width="52.1" height="55.3" fill="#d23e3e"/>
<rect x="541.8" y="3734" width="104" height="55.3" fill="#e69090"/>
<rect x="645.4" y="3734" width="52.1" height="55.3" fill="#e48c8c"/>
<rect x="697.3" y="3734" width="52.1" height="55.3" fill="#f6d8d8"/>
<rect x="749.1" y="3734" width="52.1" height="55.3" fill="#e9a0a0"/>
<rect x="800.9" y="3734" width="52.1" height="55.3" fill="#ecaaaa"/>
<rect x="852.8" y="3734" width="52.1" height="55.3" fill="#eeb5b5"/>
<rect x="904.6" y="3734" width="52.1" height="55.3" fill="#f0bcbc"/>
<rect x="956.4" y="3734" width="52.1" height="55.3" fill="#f0c0c0"/>
<rect x="1008.2" y="3734" width="52.1" height="55.3" fill="#f2c7c7"/>
<rect x="1060.1" y="3734" width="52.1" height="55.3" fill="#f8e3e3"/>
<rect x="1111.9" y="3734" width="52.1" height="55.3" fill="#ecaaaa"/>
<rect x="1163.7" y="3734" width="52.1" height="55.3" fill="#f0bcbc"/>
<rect x="1215.6" y="3734" width="52.1" height="55.3" fill="#eeb5b5"/>
<rect x="1267.4" y="3734" width="52.1" height="55.3" fill="#f2c7c7"/>
<rect x="1319.2" y="3734" width="52.1" height="55.3" fill="#eeb5b5"/>
<rect x="1371.1" y="3734" width="52.1" height="55.3" fill="#edb1b1"/>
<rect x="1422.9" y="3734" width="52.1" height="55.3" fill="#f8e3e3"/>
<rect x="1474.7" y="3734" width="104" height="55.3" fill="#eeb5b5"/>
<rect x="230.8" y="3789" width="259.4" height="55.3" fill="#d1d1e8"/>
<rect x="489.9" y="3789" width="52.1" height="55.3" fill="#d23e3e"/>
<rect x="541.8" y="3789" width="52.1" height="55.3" fill="#d1d1e8"/>
<rect x="593.6" y="3789" width="52.1" height="55.3" fill="#f0f0f7"/>
<rect x="645.4" y="3789" width="52.1" height="55.3" fill="#de6e6e"/>
<rect x="697.3" y="3789" width="52.1" height="55.3" fill="#f2c7c7"/>
<rect x="749.1" y="3789" width="52.1" height="55.3" fill="#e69090"/>
<rect x="800.9" y="3789" width="52.1" height="55.3" fill="#e48a8a"/>
<rect x="852.8" y="3789" width="52.1" height="55.3" fill="#e48888"/>
<rect x="904.6" y="3789" width="52.1" height="55.3" fill="#f0bcbc"/>
<rect x="956.4" y="3789" width="52.1" height="55.3" fill="#f4cfcf"/>
<rect x="1008.2" y="3789" width="52.1" height="55.3" fill="#fafafc"/>
<rect x="1060.1" y="3789" width="52.1" height="55.3" fill="#e3e3f1"/>
<rect x="1111.9" y="3789" width="52.1" height="55.3" fill="#fafafc"/>
<rect x="1163.7" y="3789" width="52.1" height="55.3" fill="#f0bcbc"/>
<rect x="1215.6" y="3789" width="52.1" height="55.3" fill="#eaa6a6"/>
<rect x="1267.4" y="3789" width="52.1" height="55.3" fill="#edb1b1"/>
<rect x="1319.2" y="3789" width="52.1" height="55.3" fill="#e89b9b"/>
<rect x="1371.1" y="3789" width="104" height="55.3" fill="#edb1b1"/>
<rect x="1474.7" y="3789" width="52.1" height="55.3" fill="#eaa6a6"/>
<rect x="1526.5" y="3789" width="52.1" height="55.3" fill="#e48888"/>
<rect x="230.8" y="3844" width="259.4" height="56" fill="#d9d9ec"/>
<rect x="489.9" y="3844" width="52.1" height="56" fill="#da5c5c"/>
<rect x="541.8" y="3844" width="104" height="56" fill="#d9d9ec"/>
<rect x="645.4" y="3844" width="52.1" height="56" fill="#de6e6e"/>
<rect x="697.3" y="3844" width="52.1" height="56" fill="#f0f0f7"/>
<rect x="749.1" y="3844" width="52.1" height="56" fill="#ecaaaa"/>
<rect x="800.9" y="3844" width="52.1" height="56" fill="#e89b9b"/>
<rect x="852.8" y="3844" width="52.1" height="56" fill="#e69090"/>
<rect x="904.6" y="3844" width="52.1" height="56" fill="#ededf6"/>
<rect x="956.4" y="3844" width="52.1" height="56" fill="#eaa6a6"/>
<rect x="1008.2" y="3844" width="52.1" height="56" fill="#f4cfcf"/>
<rect x="1060.1" y="3844" width="52.1" height="56" fill="#ebebf5"/>
<rect x="1111.9" y="3844" width="52.1" height="56" fill="#e89b9b"/>
<rect x="1163.7" y="3844" width="104" height="56" fill="#f2c7c7"/>
<rect x="1267.4" y="3844" width="104" height="56" fill="#ecaaaa"/>
<rect x="1371.1" y="3844" width="104" height="56" fill="#e69090"/>
<rect x="1474.7" y="3844" width="52.1" height="56" fill="#e89b9b"/>
<rect x="1526.5" y="3844" width="52.1" height="56" fill="#e69090"/>
<rect x="230.8" y="3899.7" width="259.4" height="56" fill="#d9d9ec"/>
<rect x="489.9" y="3899.7" width="52.1" height="56" fill="#ce2a2a"/>
<rect x="541.8" y="3899.7" width="104" height="56" fill="#d9d9ec"/>
<rect x="645.4" y="3899.7" width="52.1" height="56" fill="#ecaaaa"/>
<rect x="697.3" y="3899.7" width="52.1" height="56" fill="#e3e3f1"/>
<rect x="749.1" y="3899.7" width="52.1" height="56" fill="#e69090"/>
<rect x="800.9" y="3899.7" width="52.1" height="56" fill="#f6d8d8"/>
<rect x="852.8" y="3899.7" width="52.1" height="56" fill="#eeb5b5"/>
<rect x="904.6" y="3899.7" width="52.1" height="56" fill="#f4cfcf"/>
<rect x="956.4" y="3899.7" width="52.1" height="56" fill="#e69595"/>
<rect x="1008.2" y="3899.7" width="52.1" height="56" fill="#f2c7c7"/>
<rect x="1060.1" y="3899.7" width="52.1" height="56" fill="#fcf0f0"/>
<rect x="1111.9" y="3899.7" width="52.1" height="56" fill="#e69595"/>
<rect x="1163.7" y="3899.7" width="52.1" height="56" fill="#e28383"/>
<rect x="1215.6" y="3899.7" width="52.1" height="56" fill="#eaa6a6"/>
<rect x="1267.4" y="3899.7" width="52.1" height="56" fill="#e89b9b"/>
<rect x="1319.2" y="3899.7" width="52.1" height="56" fill="#f4cfcf"/>
<rect x="1371.1" y="3899.7" width="52.1" height="56" fill="#f2c7c7"/>
<rect x="1422.9" y="3899.7" width="104" height="56" fill="#ecaaaa"/>
<rect x="1526.5" y="3899.7" width="52.1" height="56" fill="#e69090"/>
<rect x="230.8" y="3955.4" width="52.1" height="56" fill="#fae9e9"/>
<rect x="282.6" y="3955.4" width="52.1" height="56" fill="#a6a6d3"/>
<rect x="334.5" y="3955.4" width="52.1" height="56" fill="#dc6969"/>
<rect x="386.3" y="3955.4" width="52.1" height="56" fill="#a6a6d3"/>
<rect x="438.1" y="3955.4" width="52.1" height="56" fill="#d9d9ec"/>
<rect x="489.9" y="3955.4" width="52.1" height="56" fill="#dc6969"/>
<rect x="541.8" y="3955.4" width="52.1" height="56" fill="#eeb5b5"/>
<rect x="593.6" y="3955.4" width="52.1" height="56" fill="#e89999"/>
<rect x="645.4" y="3955.4" width="52.1" height="56" fill="#a6a6d3"/>
<rect x="697.3" y="3955.4" width="52.1" height="56" fill="#e3e3f1"/>
<rect x="749.1" y="3955.4" width="52.1" height="56" fill="#d9d9ec"/>
<rect x="800.9" y="3955.4" width="52.1" height="56" fill="#eaa6a6"/>
<rect x="852.8" y="3955.4" width="104" height="56" fill="#ecaaaa"/>
<rect x="956.4" y="3955.4" width="52.1" height="56" fill="#f2c7c7"/>
<rect x="1008.2" y="3955.4" width="52.1" height="56" fill="#fcf2f2"/>
<rect x="1060.1" y="3955.4" width="52.1" height="56" fill="#fae9e9"/>
<rect x="1111.9" y="3955.4" width="52.1" height="56" fill="#e89b9b"/>
<rect x="1163.7" y="3955.4" width="52.1" height="56" fill="#f2c7c7"/>
<rect x="1215.6" y="3955.4" width="52.1" height="56" fill="#eaa6a6"/>
<rect x="1267.4" y="3955.4" width="52.1" height="56" fill="#e69595"/>
<rect x="1319.2" y="3955.4" width="52.1" height="56" fill="#edb1b1"/>
<rect x="1371.1" y="3955.4" width="52.1" height="56" fill="#f0c0c0"/>
<rect x="1422.9" y="3955.4" width="52.1" height="56" fill="#eeb5b5"/>
<rect x="1474.7" y="3955.4" width="52.1" height="56" fill="#edb1b1"/>
<rect x="1526.5" y="3955.4" width="52.1" height="56" fill="#e48888"/>
<rect x="230.8" y="4011.1" width="52.1" height="56" fill="#d9d9ec"/>
<rect x="282.6" y="4011.1" width="52.1" height="56" fill="#9e9ecf"/>
<rect x="334.5" y="4011.1" width="52.1" height="56" fill="#e9a0a0"/>
<rect x="386.3" y="4011.1" width="104" height="56" fill="#9e9ecf"/>
<rect x="489.9" y="4011.1" width="52.1" height="56" fill="#e07676"/>
<rect x="541.8" y="4011.1" width="52.1" height="56" fill="#ecaaaa"/>
<rect x="593.6" y="4011.1" width="52.1" height="56" fill="#f0bcbc"/>
<rect x="645.4" y="4011.1" width="52.1" height="56" fill="#e48888"/>
<rect x="697.3" y="4011.1" width="52.1" height="56" fill="#b0b0d8"/>
<rect x="749.1" y="4011.1" width="52.1" height="56" fill="#c4c4e2"/>
<rect x="800.9" y="4011.1" width="52.1" height="56" fill="#eaa6a6"/>
<rect x="852.8" y="4011.1" width="52.1" height="56" fill="#e9a0a0"/>
<rect x="904.6" y="4011.1" width="52.1" height="56" fill="#f4cdcd"/>
<rect x="956.4" y="4011.1" width="52.1" height="56" fill="#f0c0c0"/>
<rect x="1008.2" y="4011.1" width="104" height="56" fill="#eeb5b5"/>
<rect x="1111.9" y="4011.1" width="104" height="56" fill="#f0bcbc"/>
<rect x="1215.6" y="4011.1" width="52.1" height="56" fill="#e89b9b"/>
<rect x="1267.4" y="4011.1" width="52.1" height="56" fill="#e69595"/>
<rect x="1319.2" y="4011.1" width="52.1" height="56" fill="#edb1b1"/>
<rect x="1371.1" y="4011.1" width="52.1" height="56" fill="#eeb5b5"/>
<rect x="1422.9" y="4011.1" width="104" height="56" fill="#edb1b1"/>
<rect x="1526.5" y="4011.1" width="52.1" height="56" fill="#e89b9b"/>
<rect x="230.8" y="4066.7" width="52.1" height="56" fill="#fae9e9"/>
<rect x="282.6" y="4066.7" width="52.1" height="56" fill="#7373b9"/>
<rect x="334.5" y="4066.7" width="52.1" height="56" fill="#e48a8a"/>
<rect x="386.3" y="4066.7" width="104" height="56" fill="#7373b9"/>
<rect x="489.9" y="4066.7" width="52.1" height="56" fill="#f0bcbc"/>
<rect x="541.8" y="4066.7" width="52.1" height="56" fill="#f0c0c0"/>
<rect x="593.6" y="4066.7" width="104" height="56" fill="#ecaaaa"/>
<rect x="697.3" y="4066.7" width="52.1" height="56" fill="#fcf0f0"/>
<rect x="749.1" y="4066.7" width="52.1" height="56" fill="#fcf2f2"/>
<rect x="800.9" y="4066.7" width="52.1" height="56" fill="#ecaaaa"/>
<rect x="852.8" y="4066.7" width="52.1" height="56" fill="#e69595"/>
<rect x="904.6" y="4066.7" width="52.1" height="56" fill="#e9a0a0"/>
<rect x="956.4" y="4066.7" width="52.1" height="56" fill="#ecaaaa"/>
<rect x="1008.2" y="4066.7" width="104" height="56" fill="#f0c0c0"/>
<rect x="1111.9" y="4066.7" width="52.1" height="56" fill="#e89999"/>
<rect x="1163.7" y="4066.7" width="52.1" height="56" fill="#f8e3e3"/>
<rect x="1215.6" y="4066.7" width="52.1" height="56" fill="#ecaaaa"/>
<rect x="1267.4" y="4066.7" width="52.1" height="56" fill="#e69595"/>
<rect x="1319.2" y="4066.7" width="52.1" height="56" fill="#f0bcbc"/>
<rect x="1371.1" y="4066.7" width="104" height="56" fill="#f0c0c0"/>
<rect x="1474.7" y="4066.7" width="52.1" height="56" fill="#f0bcbc"/>
<rect x="1526.5" y="4066.7" width="52.1" height="56" fill="#eeb5b5"/>
<rect x="230.8" y="4122.4" width="52.1" height="56" fill="#e89b9b"/>
<rect x="282.6" y="4122.4" width="52.1" height="56" fill="#e07676"/>
<rect x="334.5" y="4122.4" width="52.1" height="56" fill="#f4cfcf"/>
<rect x="386.3" y="4122.4" width="52.1" height="56" fill="#000080"/>
<rect x="438.1" y="4122.4" width="52.1" height="56" fill="#e9a0a0"/>
<rect x="489.9" y="4122.4" width="52.1" height="56" fill="#f0bcbc"/>
<rect x="541.8" y="4122.4" width="52.1" height="56" fill="#f4cfcf"/>
<rect x="593.6" y="4122.4" width="52.1" height="56" fill="#f4cdcd"/>
<rect x="645.4" y="4122.4" width="52.1" height="56" fill="#fae9e9"/>
<rect x="697.3" y="4122.4" width="52.1" height="56" fill="#fcf0f0"/>
<rect x="749.1" y="4122.4" width="52.1" height="56" fill="#f4cfcf"/>
<rect x="800.9" y="4122.4" width="52.1" height="56" fill="#eeb5b5"/>
<rect x="852.8" y="4122.4" width="52.1" height="56" fill="#f0bcbc"/>
<rect x="904.6" y="4122.4" width="52.1" height="56" fill="#f2c7c7"/>
<rect x="956.4" y="4122.4" width="52.1" height="56" fill="#f8e3e3"/>
<rect x="1008.2" y="4122.4" width="52.1" height="56" fill="#d9d9ec"/>
<rect x="1060.1" y="4122.4" width="52.1" height="56" fill="#fefbfb"/>
<rect x="1111.9" y="4122.4" width="52.1" height="56" fill="#edb1b1"/>
<rect x="1163.7" y="4122.4" width="52.1" height="56" fill="#fae9e9"/>
<rect x="1215.6" y="4122.4" width="52.1" height="56" fill="#ecaaaa"/>
<rect x="1267.4" y="4122.4" width="52.1" height="56" fill="#eeb5b5"/>
<rect x="1319.2" y="4122.4" width="52.1" height="56" fill="#f0c0c0"/>
<rect x="1371.1" y="4122.4" width="52.1" height="56" fill="#f2c7c7"/>
<rect x="1422.9" y="4122.4" width="52.1" height="56" fill="#f4cfcf"/>
<rect x="1474.7" y="4122.4" width="52.1" height="56" fill="#e69595"/>
<rect x="1526.5" y="4122.4" width="52.1" height="56" fill="#e69090"/>
<rect x="230.8" y="4178" width="52.1" height="56" fill="#e6e6f2"/>
<rect x="282.6" y="4178" width="52.1" height="56" fill="#dc6969"/>
<rect x="334.5" y="4178" width="104" height="56" fill="#5e5eaf"/>
<rect x="438.1" y="4178" width="52.1" height="56" fill="#fae9e9"/>
<rect x="489.9" y="4178" width="52.1" height="56" fill="#f0bcbc"/>
<rect x="541.8" y="4178" width="52.1" height="56" fill="#edb1b1"/>
<rect x="593.6" y="4178" width="52.1" height="56" fill="#eeb5b5"/>
<rect x="645.4" y="4178" width="52.1" height="56" fill="#ededf6"/>
<rect x="697.3" y="4178" width="52.1" height="56" fill="#fafafc"/>
<rect x="749.1" y="4178" width="52.1" height="56" fill="#f0c0c0"/>
<rect x="800.9" y="4178" width="52.1" height="56" fill="#edb1b1"/>
<rect x="852.8" y="4178" width="52.1" height="56" fill="#e69595"/>
<rect x="904.6" y="4178" width="52.1" height="56" fill="#f6d8d8"/>
<rect x="956.4" y="4178" width="52.1" height="56" fill="#e9a0a0"/>
<rect x="1008.2" y="4178" width="104" height="56" fill="#edb1b1"/>
<rect x="1111.9" y="4178" width="52.1" height="56" fill="#eeb5b5"/>
<rect x="1163.7" y="4178" width="52.1" height="56" fill="#f0bcbc"/>
<rect x="1215.6" y="4178" width="52.1" height="56" fill="#edb1b1"/>
<rect x="1267.4" y="4178" width="52.1" height="56" fill="#e89b9b"/>
<rect x="1319.2" y="4178" width="52.1" height="56" fill="#f0bcbc"/>
<rect x="1371.1" y="4178" width="52.1" height="56" fill="#f4cfcf"/>
<rect x="1422.9" y="4178" width="52.1" height="56" fill="#f0c0c0"/>
<rect x="1474.7" y="4178" width="52.1" height="56" fill="#f0bcbc"/>
<rect x="1526.5" y="4178" width="52.1" height="56" fill="#eeb5b5"/>
</g>
<path class="grid" d="M230.8 2526.8H1578.4M230.8 2581.7H1578.4M230.8 2636.6H1578.4M230.8 2691.5H1578.4M230.8 2746.4H1578.4M230.8 2801.3H1578.4M230.8 2856.1H1578.4M230.8 2910.9H1578.4M230.8 2965.8H1578.4M230.8 3020.6H1578.4M230.8 3075.4H1578.4M230.8 3130.2H1578.4M230.8 3185.1H1578.4M230.8 3239.9H1578.4M230.8 3294.8H1578.4M230.8 3349.6H1578.4M230.8 3404.5H1578.4M230.8 3459.3H1578.4M230.8 3514.2H1578.4M230.8 3569H1578.4M230.8 3624H1578.4M230.8 3679H1578.4M230.8 3734H1578.4M230.8 3789H1578.4M230.8 3844H1578.4M230.8 3899.7H1578.4M230.8 3955.4H1578.4M230.8 4011.1H1578.4M230.8 4066.7H1578.4M230.8 4122.4H1578.4M230.8 4178H1578.4M230.8 4233.7H1578.4M230.8 2526.8V4233.7M282.6 2526.8V4233.7M334.5 2526.8V4233.7M386.3 2526.8V4233.7M438.1 2526.8V4233.7M489.9 2526.8V4233.7M541.8 2526.8V4233.7M593.6 2526.8V4233.7M645.4 2526.8V4233.7M697.3 2526.8V4233.7M749.1 2526.8V4233.7M800.9 2526.8V4233.7M852.8 2526.8V4233.7M904.6 2526.8V4233.7M956.4 2526.8V4233.7M1008.2 2526.8V4233.7M1060.1 2526.8V4233.7M1111.9 2526.8V4233.7M1163.7 2526.8V4233.7M1215.6 2526.8V4233.7M1267.4 2526.8V4233.7M1319.2 2526.8V4233.7M1371.1 2526.8V4233.7M1422.9 2526.8V4233.7M1474.7 2526.8V4233.7M1526.5 2526.8V4233.7M1578.4 2526.8V4233.7"/>
<text class="b" x="1588.3" y="2510.8" font-size="38">groupm</text>
<g class="rl" font-size="44.8">
<text x="1588.4" y="2570.1">NPHS2</text>
<text x="1588.4" y="2625">KLHDC7A</text>
<text x="1588.4" y="2679.9">LYG1</text>
<text x="1588.4" y="2734.8">NAT8</text>
<text x="1588.4" y="2789.7">PDZK1IP1</text>
<text x="1588.4" y="2844.5">SLC17A3</text>
<text x="1588.4" y="2899.3">CLTRN</text>
<text x="1588.4" y="2954.2">SLC13A3</text>
<text x="1588.4" y="3009">UGT1A9</text>
<text x="1588.4" y="3063.8">ATP6V0D2</text>
<text x="1588.4" y="3118.6">SLC22A6</text>
<text x="1588.4" y="3173.5">TMEM207</text>
<text x="1588.4" y="3228.3">CDH16</text>
<text x="1588.4" y="3283.2">MCCD1</text>
<text x="1588.4" y="3338">SLC22A12</text>
<text x="1588.4" y="3392.8">FXYD4</text>
<text x="1588.4" y="3447.7">CD24</text>
<text x="1588.4" y="3502.5">UMOD</text>
<text x="1588.4" y="3557.4">CYS1</text>
<text x="1588.4" y="3612.3">SLC12A3</text>
<text x="1588.4" y="3667.3">CLDN16</text>
<text x="1588.4" y="3722.3">FMO1</text>
<text x="1588.4" y="3777.3">GALNT14</text>
<text x="1588.4" y="3832.3">TMEM174</text>
<text x="1588.4" y="3887.7">NOX4</text>
<text x="1588.4" y="3943.4">SLC22A2</text>
<text x="1588.4" y="3999">PTH1R</text>
<text x="1588.4" y="4054.7">SLC12A1</text>
<text x="1588.4" y="4110.4">KCNJ1</text>
<text x="1588.4" y="4166">MIOX</text>
<text x="1588.4" y="4221.7">TMEM52B</text>
</g>
<g class="cl" font-size="39.6">
<text transform="translate(257.4 4246) rotate(-45)" y="28.2">NG_1</text>
<text transform="translate(309.2 4246) rotate(-45)" y="28.2">NG_2</text>
<text transform="translate(361.1 4246) rotate(-45)" y="28.2">NG_6</text>
<text transform="translate(412.9 4246) rotate(-45)" y="28.2">NG_3</text>
<text transform="translate(464.7 4246) rotate(-45)" y="28.2">NG_8</text>
<text transform="translate(516.6 4246) rotate(-45)" y="28.2">NG_7</text>
<text transform="translate(568.4 4246) rotate(-45)" y="28.2">UC_3</text>
<text transform="translate(620.2 4246) rotate(-45)" y="28.2">UC_8</text>
<text transform="translate(672.1 4246) rotate(-45)" y="28.2">HFD_3</text>
<text transform="translate(723.9 4246) rotate(-45)" y="28.2">HFD_10</text>
<text transform="translate(775.7 4246) rotate(-45)" y="28.2">UC_10</text>
<text transform="translate(827.5 4246) rotate(-45)" y="28.2">HFD_7</text>
<text transform="translate(879.4 4246) rotate(-45)" y="28.2">UC_7</text>
<text transform="translate(931.2 4246) rotate(-45)" y="28.2">UC_2</text>
<text transform="translate(983 4246) rotate(-45)" y="28.2">UC_5</text>
<text transform="translate(1034.9 4246) rotate(-45)" y="28.2">HFD_4</text>
<text transform="translate(1086.7 4246) rotate(-45)" y="28.2">UC_4</text>
<text transform="translate(1138.5 4246) rotate(-45)" y="28.2">HFD_2</text>
<text transform="translate(1190.4 4246) rotate(-45)" y="28.2">HFD_5</text>
<text transform="translate(1242.2 4246) rotate(-45)" y="28.2">HFD_1</text>
<text transform="translate(1294 4246) rotate(-45)" y="28.2">UC_1</text>
<text transform="translate(1345.8 4246) rotate(-45)" y="28.2">HFD_8</text>
<text transform="translate(1397.7 4246) rotate(-45)" y="28.2">HFD_9</text>
<text transform="translate(1449.5 4246) rotate(-45)" y="28.2">UC_9</text>
<text transform="translate(1501.3 4246) rotate(-45)" y="28.2">HFD_6</text>
<text transform="translate(1553.2 4246) rotate(-45)" y="28.2">UC_6</text>
</g>
<defs><linearGradient id="gB" x1="0" y1="0" x2="0" y2="1"><stop offset="0" stop-color="#cd2626"/><stop offset="0.5" stop-color="#ffffff"/><stop offset="1" stop-color="#000080"/></linearGradient></defs>
<rect x="1835.1" y="2485.2" width="36.2" height="540.2" fill="url(#gB)"/>
<g class="lt" font-size="40">
<text x="1908" y="2542.6">2</text>
<text x="1908" y="2627.8">1</text>
<text x="1908" y="2708.7">0</text>
<text x="1909.5" y="2792.7">−1</text>
<text x="1909.5" y="2875.2">−2</text>
<text x="1909.5" y="2956.1">−3</text>
<text x="1909.5" y="3033.3">−4</text>
</g>
</g>
</svg></body></html>
